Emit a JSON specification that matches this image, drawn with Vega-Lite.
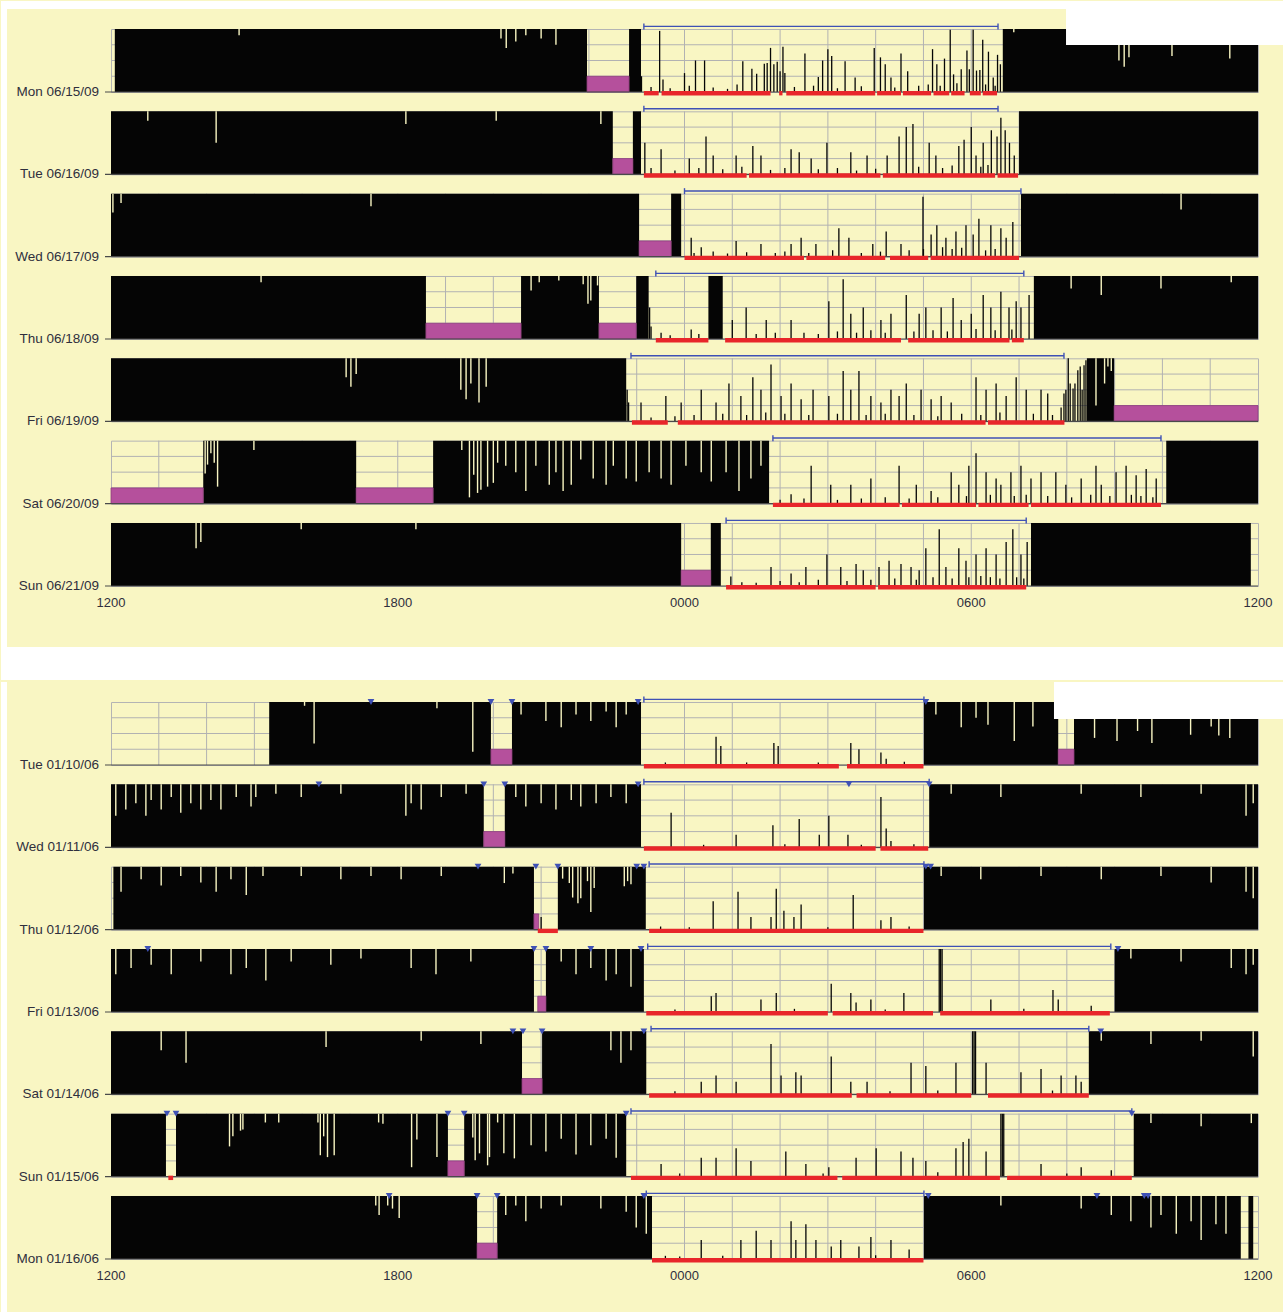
{
"$schema":"https://vega.github.io/schema/vega-lite/v6.json",
"background":"#F9F6C3",
"padding":0,
"autosize":{"type":"pad"},
"spacing":0,
"config":{"view":{"stroke":"#b4b4b4","strokeWidth":1},"font":"Liberation Sans"},
"datasets":{
"p1":[
{"d":"Mon 06/15/09","k":"g","a":1},{"d":"Mon 06/15/09","k":"g","a":2},{"d":"Mon 06/15/09","k":"g","a":3},{"d":"Mon 06/15/09","k":"g","a":4},{"d":"Mon 06/15/09","k":"g","a":5},{"d":"Mon 06/15/09","k":"g","a":6},{"d":"Mon 06/15/09","k":"g","a":7},{"d":"Mon 06/15/09","k":"g","a":8},{"d":"Mon 06/15/09","k":"g","a":9},{"d":"Mon 06/15/09","k":"g","a":10},{"d":"Mon 06/15/09","k":"g","a":11},{"d":"Mon 06/15/09","k":"g","a":12},{"d":"Mon 06/15/09","k":"g","a":13},{"d":"Mon 06/15/09","k":"g","a":14},{"d":"Mon 06/15/09","k":"g","a":15},{"d":"Mon 06/15/09","k":"g","a":16},{"d":"Mon 06/15/09","k":"g","a":17},{"d":"Mon 06/15/09","k":"g","a":18},{"d":"Mon 06/15/09","k":"g","a":19},{"d":"Mon 06/15/09","k":"g","a":20},{"d":"Mon 06/15/09","k":"g","a":21},{"d":"Mon 06/15/09","k":"g","a":22},{"d":"Mon 06/15/09","k":"g","a":23},{"d":"Mon 06/15/09","k":"h","v":0.25},{"d":"Mon 06/15/09","k":"h","v":0.5},{"d":"Mon 06/15/09","k":"h","v":0.75},
{"d":"Tue 06/16/09","k":"g","a":1},{"d":"Tue 06/16/09","k":"g","a":2},{"d":"Tue 06/16/09","k":"g","a":3},{"d":"Tue 06/16/09","k":"g","a":4},{"d":"Tue 06/16/09","k":"g","a":5},{"d":"Tue 06/16/09","k":"g","a":6},{"d":"Tue 06/16/09","k":"g","a":7},{"d":"Tue 06/16/09","k":"g","a":8},{"d":"Tue 06/16/09","k":"g","a":9},{"d":"Tue 06/16/09","k":"g","a":10},{"d":"Tue 06/16/09","k":"g","a":11},{"d":"Tue 06/16/09","k":"g","a":12},{"d":"Tue 06/16/09","k":"g","a":13},{"d":"Tue 06/16/09","k":"g","a":14},{"d":"Tue 06/16/09","k":"g","a":15},{"d":"Tue 06/16/09","k":"g","a":16},{"d":"Tue 06/16/09","k":"g","a":17},{"d":"Tue 06/16/09","k":"g","a":18},{"d":"Tue 06/16/09","k":"g","a":19},{"d":"Tue 06/16/09","k":"g","a":20},{"d":"Tue 06/16/09","k":"g","a":21},{"d":"Tue 06/16/09","k":"g","a":22},{"d":"Tue 06/16/09","k":"g","a":23},{"d":"Tue 06/16/09","k":"h","v":0.25},{"d":"Tue 06/16/09","k":"h","v":0.5},{"d":"Tue 06/16/09","k":"h","v":0.75},
{"d":"Wed 06/17/09","k":"g","a":1},{"d":"Wed 06/17/09","k":"g","a":2},{"d":"Wed 06/17/09","k":"g","a":3},{"d":"Wed 06/17/09","k":"g","a":4},{"d":"Wed 06/17/09","k":"g","a":5},{"d":"Wed 06/17/09","k":"g","a":6},{"d":"Wed 06/17/09","k":"g","a":7},{"d":"Wed 06/17/09","k":"g","a":8},{"d":"Wed 06/17/09","k":"g","a":9},{"d":"Wed 06/17/09","k":"g","a":10},{"d":"Wed 06/17/09","k":"g","a":11},{"d":"Wed 06/17/09","k":"g","a":12},{"d":"Wed 06/17/09","k":"g","a":13},{"d":"Wed 06/17/09","k":"g","a":14},{"d":"Wed 06/17/09","k":"g","a":15},{"d":"Wed 06/17/09","k":"g","a":16},{"d":"Wed 06/17/09","k":"g","a":17},{"d":"Wed 06/17/09","k":"g","a":18},{"d":"Wed 06/17/09","k":"g","a":19},{"d":"Wed 06/17/09","k":"g","a":20},{"d":"Wed 06/17/09","k":"g","a":21},{"d":"Wed 06/17/09","k":"g","a":22},{"d":"Wed 06/17/09","k":"g","a":23},{"d":"Wed 06/17/09","k":"h","v":0.25},{"d":"Wed 06/17/09","k":"h","v":0.5},{"d":"Wed 06/17/09","k":"h","v":0.75},
{"d":"Thu 06/18/09","k":"g","a":1},{"d":"Thu 06/18/09","k":"g","a":2},{"d":"Thu 06/18/09","k":"g","a":3},{"d":"Thu 06/18/09","k":"g","a":4},{"d":"Thu 06/18/09","k":"g","a":5},{"d":"Thu 06/18/09","k":"g","a":6},{"d":"Thu 06/18/09","k":"g","a":7},{"d":"Thu 06/18/09","k":"g","a":8},{"d":"Thu 06/18/09","k":"g","a":9},{"d":"Thu 06/18/09","k":"g","a":10},{"d":"Thu 06/18/09","k":"g","a":11},{"d":"Thu 06/18/09","k":"g","a":12},{"d":"Thu 06/18/09","k":"g","a":13},{"d":"Thu 06/18/09","k":"g","a":14},{"d":"Thu 06/18/09","k":"g","a":15},{"d":"Thu 06/18/09","k":"g","a":16},{"d":"Thu 06/18/09","k":"g","a":17},{"d":"Thu 06/18/09","k":"g","a":18},{"d":"Thu 06/18/09","k":"g","a":19},{"d":"Thu 06/18/09","k":"g","a":20},{"d":"Thu 06/18/09","k":"g","a":21},{"d":"Thu 06/18/09","k":"g","a":22},{"d":"Thu 06/18/09","k":"g","a":23},{"d":"Thu 06/18/09","k":"h","v":0.25},{"d":"Thu 06/18/09","k":"h","v":0.5},{"d":"Thu 06/18/09","k":"h","v":0.75},
{"d":"Fri 06/19/09","k":"g","a":1},{"d":"Fri 06/19/09","k":"g","a":2},{"d":"Fri 06/19/09","k":"g","a":3},{"d":"Fri 06/19/09","k":"g","a":4},{"d":"Fri 06/19/09","k":"g","a":5},{"d":"Fri 06/19/09","k":"g","a":6},{"d":"Fri 06/19/09","k":"g","a":7},{"d":"Fri 06/19/09","k":"g","a":8},{"d":"Fri 06/19/09","k":"g","a":9},{"d":"Fri 06/19/09","k":"g","a":10},{"d":"Fri 06/19/09","k":"g","a":11},{"d":"Fri 06/19/09","k":"g","a":12},{"d":"Fri 06/19/09","k":"g","a":13},{"d":"Fri 06/19/09","k":"g","a":14},{"d":"Fri 06/19/09","k":"g","a":15},{"d":"Fri 06/19/09","k":"g","a":16},{"d":"Fri 06/19/09","k":"g","a":17},{"d":"Fri 06/19/09","k":"g","a":18},{"d":"Fri 06/19/09","k":"g","a":19},{"d":"Fri 06/19/09","k":"g","a":20},{"d":"Fri 06/19/09","k":"g","a":21},{"d":"Fri 06/19/09","k":"g","a":22},{"d":"Fri 06/19/09","k":"g","a":23},{"d":"Fri 06/19/09","k":"h","v":0.25},{"d":"Fri 06/19/09","k":"h","v":0.5},{"d":"Fri 06/19/09","k":"h","v":0.75},
{"d":"Sat 06/20/09","k":"g","a":1},{"d":"Sat 06/20/09","k":"g","a":2},{"d":"Sat 06/20/09","k":"g","a":3},{"d":"Sat 06/20/09","k":"g","a":4},{"d":"Sat 06/20/09","k":"g","a":5},{"d":"Sat 06/20/09","k":"g","a":6},{"d":"Sat 06/20/09","k":"g","a":7},{"d":"Sat 06/20/09","k":"g","a":8},{"d":"Sat 06/20/09","k":"g","a":9},{"d":"Sat 06/20/09","k":"g","a":10},{"d":"Sat 06/20/09","k":"g","a":11},{"d":"Sat 06/20/09","k":"g","a":12},{"d":"Sat 06/20/09","k":"g","a":13},{"d":"Sat 06/20/09","k":"g","a":14},{"d":"Sat 06/20/09","k":"g","a":15},{"d":"Sat 06/20/09","k":"g","a":16},{"d":"Sat 06/20/09","k":"g","a":17},{"d":"Sat 06/20/09","k":"g","a":18},{"d":"Sat 06/20/09","k":"g","a":19},{"d":"Sat 06/20/09","k":"g","a":20},{"d":"Sat 06/20/09","k":"g","a":21},{"d":"Sat 06/20/09","k":"g","a":22},{"d":"Sat 06/20/09","k":"g","a":23},{"d":"Sat 06/20/09","k":"h","v":0.25},{"d":"Sat 06/20/09","k":"h","v":0.5},{"d":"Sat 06/20/09","k":"h","v":0.75},
{"d":"Sun 06/21/09","k":"g","a":1},{"d":"Sun 06/21/09","k":"g","a":2},{"d":"Sun 06/21/09","k":"g","a":3},{"d":"Sun 06/21/09","k":"g","a":4},{"d":"Sun 06/21/09","k":"g","a":5},{"d":"Sun 06/21/09","k":"g","a":6},{"d":"Sun 06/21/09","k":"g","a":7},{"d":"Sun 06/21/09","k":"g","a":8},{"d":"Sun 06/21/09","k":"g","a":9},{"d":"Sun 06/21/09","k":"g","a":10},{"d":"Sun 06/21/09","k":"g","a":11},{"d":"Sun 06/21/09","k":"g","a":12},{"d":"Sun 06/21/09","k":"g","a":13},{"d":"Sun 06/21/09","k":"g","a":14},{"d":"Sun 06/21/09","k":"g","a":15},{"d":"Sun 06/21/09","k":"g","a":16},{"d":"Sun 06/21/09","k":"g","a":17},{"d":"Sun 06/21/09","k":"g","a":18},{"d":"Sun 06/21/09","k":"g","a":19},{"d":"Sun 06/21/09","k":"g","a":20},{"d":"Sun 06/21/09","k":"g","a":21},{"d":"Sun 06/21/09","k":"g","a":22},{"d":"Sun 06/21/09","k":"g","a":23},{"d":"Sun 06/21/09","k":"h","v":0.25},{"d":"Sun 06/21/09","k":"h","v":0.5},{"d":"Sun 06/21/09","k":"h","v":0.75},

{"d":"Mon 06/15/09","k":"w","a":0.08,"b":9.96},{"d":"Mon 06/15/09","k":"w","a":10.84,"b":11.09},{"d":"Mon 06/15/09","k":"w","a":18.66,"b":24},
{"d":"Mon 06/15/09","k":"m","a":9.96,"b":10.84},
{"d":"Mon 06/15/09","k":"br","a":11.15,"b":18.56},
{"d":"Mon 06/15/09","k":"r","a":11.15,"b":11.46},{"d":"Mon 06/15/09","k":"r","a":11.52,"b":13.8},{"d":"Mon 06/15/09","k":"r","a":13.98,"b":14.05},{"d":"Mon 06/15/09","k":"r","a":14.13,"b":15.99},{"d":"Mon 06/15/09","k":"r","a":16.03,"b":16.53},{"d":"Mon 06/15/09","k":"r","a":16.57,"b":17.16},{"d":"Mon 06/15/09","k":"r","a":17.21,"b":17.54},{"d":"Mon 06/15/09","k":"r","a":17.58,"b":17.86},{"d":"Mon 06/15/09","k":"r","a":17.97,"b":18.2},{"d":"Mon 06/15/09","k":"r","a":18.24,"b":18.54},
{"d":"Mon 06/15/09","k":"s","a":11.10,"v":0.25},{"d":"Mon 06/15/09","k":"s","a":11.48,"v":0.97},{"d":"Mon 06/15/09","k":"s","a":11.55,"v":0.2},{"d":"Mon 06/15/09","k":"s","a":12.0,"v":0.3},{"d":"Mon 06/15/09","k":"s","a":12.23,"v":0.5},{"d":"Mon 06/15/09","k":"s","a":12.42,"v":0.5},{"d":"Mon 06/15/09","k":"s","a":13.22,"v":0.49},{"d":"Mon 06/15/09","k":"s","a":13.41,"v":0.37},{"d":"Mon 06/15/09","k":"s","a":13.51,"v":0.29},{"d":"Mon 06/15/09","k":"s","a":13.67,"v":0.45},{"d":"Mon 06/15/09","k":"s","a":13.73,"v":0.46},{"d":"Mon 06/15/09","k":"s","a":13.80,"v":0.7},{"d":"Mon 06/15/09","k":"s","a":13.87,"v":0.44},{"d":"Mon 06/15/09","k":"s","a":13.94,"v":0.48},{"d":"Mon 06/15/09","k":"s","a":14.0,"v":0.33},{"d":"Mon 06/15/09","k":"s","a":14.06,"v":0.72},{"d":"Mon 06/15/09","k":"s","a":14.1,"v":0.3},{"d":"Mon 06/15/09","k":"s","a":14.52,"v":0.61},{"d":"Mon 06/15/09","k":"s","a":14.80,"v":0.24},{"d":"Mon 06/15/09","k":"s","a":14.89,"v":0.5},{"d":"Mon 06/15/09","k":"s","a":15.0,"v":0.68},{"d":"Mon 06/15/09","k":"s","a":15.08,"v":0.57},{"d":"Mon 06/15/09","k":"s","a":15.36,"v":0.49},{"d":"Mon 06/15/09","k":"s","a":15.57,"v":0.23},{"d":"Mon 06/15/09","k":"s","a":15.97,"v":0.7},{"d":"Mon 06/15/09","k":"s","a":16.10,"v":0.55},{"d":"Mon 06/15/09","k":"s","a":16.20,"v":0.44},{"d":"Mon 06/15/09","k":"s","a":16.32,"v":0.23},{"d":"Mon 06/15/09","k":"s","a":16.53,"v":0.61},{"d":"Mon 06/15/09","k":"s","a":16.67,"v":0.33},{"d":"Mon 06/15/09","k":"s","a":17.19,"v":0.68},{"d":"Mon 06/15/09","k":"s","a":17.28,"v":0.44},{"d":"Mon 06/15/09","k":"s","a":17.44,"v":0.53},{"d":"Mon 06/15/09","k":"s","a":17.56,"v":0.99},{"d":"Mon 06/15/09","k":"s","a":17.63,"v":0.28},{"d":"Mon 06/15/09","k":"s","a":17.79,"v":0.36},{"d":"Mon 06/15/09","k":"s","a":17.91,"v":0.66},{"d":"Mon 06/15/09","k":"s","a":17.96,"v":0.36},{"d":"Mon 06/15/09","k":"s","a":18.04,"v":0.99},{"d":"Mon 06/15/09","k":"s","a":18.11,"v":0.34},{"d":"Mon 06/15/09","k":"s","a":18.18,"v":0.35},{"d":"Mon 06/15/09","k":"s","a":18.24,"v":0.83},{"d":"Mon 06/15/09","k":"s","a":18.36,"v":0.64},{"d":"Mon 06/15/09","k":"s","a":18.46,"v":0.23},{"d":"Mon 06/15/09","k":"s","a":18.55,"v":0.59},{"d":"Mon 06/15/09","k":"s","a":18.61,"v":0.44},
{"d":"Mon 06/15/09","k":"s","a":11.3,"v":0.08},{"d":"Mon 06/15/09","k":"s","a":11.7,"v":0.06},{"d":"Mon 06/15/09","k":"s","a":12.1,"v":0.1},{"d":"Mon 06/15/09","k":"s","a":12.6,"v":0.07},{"d":"Mon 06/15/09","k":"s","a":12.9,"v":0.05},{"d":"Mon 06/15/09","k":"s","a":13.1,"v":0.12},{"d":"Mon 06/15/09","k":"s","a":14.3,"v":0.08},{"d":"Mon 06/15/09","k":"s","a":14.7,"v":0.1},{"d":"Mon 06/15/09","k":"s","a":15.2,"v":0.06},{"d":"Mon 06/15/09","k":"s","a":15.7,"v":0.09},{"d":"Mon 06/15/09","k":"s","a":16.4,"v":0.07},{"d":"Mon 06/15/09","k":"s","a":16.9,"v":0.1},{"d":"Mon 06/15/09","k":"s","a":17.1,"v":0.12},{"d":"Mon 06/15/09","k":"s","a":17.35,"v":0.1},{"d":"Mon 06/15/09","k":"s","a":17.7,"v":0.14},{"d":"Mon 06/15/09","k":"s","a":18.3,"v":0.12},{"d":"Mon 06/15/09","k":"s","a":18.5,"v":0.1},
{"d":"Mon 06/15/09","k":"dp","a":2.68,"v":0.9},{"d":"Mon 06/15/09","k":"dp","a":8.16,"v":0.85},{"d":"Mon 06/15/09","k":"dp","a":8.27,"v":0.7},{"d":"Mon 06/15/09","k":"dp","a":8.47,"v":0.8},{"d":"Mon 06/15/09","k":"dp","a":8.68,"v":0.9},{"d":"Mon 06/15/09","k":"dp","a":9.0,"v":0.85},{"d":"Mon 06/15/09","k":"dp","a":9.31,"v":0.75},{"d":"Mon 06/15/09","k":"dp","a":18.89,"v":0.95},{"d":"Mon 06/15/09","k":"dp","a":21.09,"v":0.5},{"d":"Mon 06/15/09","k":"dp","a":21.2,"v":0.4},{"d":"Mon 06/15/09","k":"dp","a":21.3,"v":0.55},{"d":"Mon 06/15/09","k":"dp","a":22.2,"v":0.57},{"d":"Mon 06/15/09","k":"dp","a":23.41,"v":0.53},
{"d":"Mon 06/15/09","k":"x","a":-2.3017,"b":24.544,"lo":1.3175,"hi":1.4444},{"d":"Mon 06/15/09","k":"x","a":-2.3017,"b":-2.1762,"lo":-9.0,"hi":1.4444},{"d":"Mon 06/15/09","k":"x","a":19.983,"b":24.544,"lo":0.746,"hi":1.4444},

{"d":"Tue 06/16/09","k":"w","a":0,"b":10.5},{"d":"Tue 06/16/09","k":"w","a":10.92,"b":11.09},{"d":"Tue 06/16/09","k":"w","a":19.0,"b":24},
{"d":"Tue 06/16/09","k":"m","a":10.5,"b":10.92},
{"d":"Tue 06/16/09","k":"br","a":11.15,"b":18.56},
{"d":"Tue 06/16/09","k":"r","a":11.15,"b":13.3},{"d":"Tue 06/16/09","k":"r","a":13.35,"b":16.1},{"d":"Tue 06/16/09","k":"r","a":16.15,"b":18.5},{"d":"Tue 06/16/09","k":"r","a":18.55,"b":18.98},
{"d":"Tue 06/16/09","k":"s","a":11.17,"v":0.5},{"d":"Tue 06/16/09","k":"s","a":11.51,"v":0.4},{"d":"Tue 06/16/09","k":"s","a":12.10,"v":0.25},{"d":"Tue 06/16/09","k":"s","a":12.45,"v":0.6},{"d":"Tue 06/16/09","k":"s","a":12.60,"v":0.3},{"d":"Tue 06/16/09","k":"s","a":13.08,"v":0.3},{"d":"Tue 06/16/09","k":"s","a":13.43,"v":0.45},{"d":"Tue 06/16/09","k":"s","a":13.60,"v":0.3},{"d":"Tue 06/16/09","k":"s","a":14.23,"v":0.4},{"d":"Tue 06/16/09","k":"s","a":14.40,"v":0.35},{"d":"Tue 06/16/09","k":"s","a":14.65,"v":0.25},{"d":"Tue 06/16/09","k":"s","a":14.98,"v":0.5},{"d":"Tue 06/16/09","k":"s","a":15.48,"v":0.35},{"d":"Tue 06/16/09","k":"s","a":15.82,"v":0.3},{"d":"Tue 06/16/09","k":"s","a":16.24,"v":0.3},{"d":"Tue 06/16/09","k":"s","a":16.49,"v":0.6},{"d":"Tue 06/16/09","k":"s","a":16.64,"v":0.75},{"d":"Tue 06/16/09","k":"s","a":16.78,"v":0.8},{"d":"Tue 06/16/09","k":"s","a":17.12,"v":0.5},{"d":"Tue 06/16/09","k":"s","a":17.26,"v":0.3},{"d":"Tue 06/16/09","k":"s","a":17.74,"v":0.45},{"d":"Tue 06/16/09","k":"s","a":17.85,"v":0.55},{"d":"Tue 06/16/09","k":"s","a":18.0,"v":0.75},{"d":"Tue 06/16/09","k":"s","a":18.1,"v":0.3},{"d":"Tue 06/16/09","k":"s","a":18.25,"v":0.5},{"d":"Tue 06/16/09","k":"s","a":18.42,"v":0.7},{"d":"Tue 06/16/09","k":"s","a":18.54,"v":0.6},{"d":"Tue 06/16/09","k":"s","a":18.62,"v":0.9},{"d":"Tue 06/16/09","k":"s","a":18.71,"v":0.7},{"d":"Tue 06/16/09","k":"s","a":18.8,"v":0.5},{"d":"Tue 06/16/09","k":"s","a":18.9,"v":0.3},
{"d":"Tue 06/16/09","k":"s","a":11.3,"v":0.1},{"d":"Tue 06/16/09","k":"s","a":11.8,"v":0.06},{"d":"Tue 06/16/09","k":"s","a":12.3,"v":0.1},{"d":"Tue 06/16/09","k":"s","a":12.8,"v":0.08},{"d":"Tue 06/16/09","k":"s","a":13.2,"v":0.12},{"d":"Tue 06/16/09","k":"s","a":13.8,"v":0.07},{"d":"Tue 06/16/09","k":"s","a":14.1,"v":0.1},{"d":"Tue 06/16/09","k":"s","a":14.8,"v":0.08},{"d":"Tue 06/16/09","k":"s","a":15.2,"v":0.1},{"d":"Tue 06/16/09","k":"s","a":15.6,"v":0.06},{"d":"Tue 06/16/09","k":"s","a":16.0,"v":0.09},{"d":"Tue 06/16/09","k":"s","a":16.9,"v":0.12},{"d":"Tue 06/16/09","k":"s","a":17.4,"v":0.1},{"d":"Tue 06/16/09","k":"s","a":17.6,"v":0.14},{"d":"Tue 06/16/09","k":"s","a":18.2,"v":0.12},{"d":"Tue 06/16/09","k":"s","a":18.35,"v":0.15},
{"d":"Tue 06/16/09","k":"dp","a":0.77,"v":0.85},{"d":"Tue 06/16/09","k":"dp","a":2.2,"v":0.5},{"d":"Tue 06/16/09","k":"dp","a":6.17,"v":0.8},{"d":"Tue 06/16/09","k":"dp","a":8.06,"v":0.85},{"d":"Tue 06/16/09","k":"dp","a":10.25,"v":0.8},

{"d":"Wed 06/17/09","k":"w","a":0,"b":11.05},{"d":"Wed 06/17/09","k":"w","a":11.72,"b":11.93},{"d":"Wed 06/17/09","k":"w","a":19.04,"b":24},
{"d":"Wed 06/17/09","k":"m","a":11.05,"b":11.72},
{"d":"Wed 06/17/09","k":"br","a":12.0,"b":19.04},
{"d":"Wed 06/17/09","k":"r","a":12.0,"b":14.5},{"d":"Wed 06/17/09","k":"r","a":14.55,"b":16.2},{"d":"Wed 06/17/09","k":"r","a":16.3,"b":17.1},{"d":"Wed 06/17/09","k":"r","a":17.15,"b":19.0},
{"d":"Wed 06/17/09","k":"s","a":12.14,"v":0.3},{"d":"Wed 06/17/09","k":"s","a":12.35,"v":0.15},{"d":"Wed 06/17/09","k":"s","a":13.08,"v":0.25},{"d":"Wed 06/17/09","k":"s","a":13.6,"v":0.2},{"d":"Wed 06/17/09","k":"s","a":14.23,"v":0.2},{"d":"Wed 06/17/09","k":"s","a":14.44,"v":0.3},{"d":"Wed 06/17/09","k":"s","a":14.75,"v":0.2},{"d":"Wed 06/17/09","k":"s","a":15.23,"v":0.45},{"d":"Wed 06/17/09","k":"s","a":15.44,"v":0.3},{"d":"Wed 06/17/09","k":"s","a":15.94,"v":0.2},{"d":"Wed 06/17/09","k":"s","a":16.22,"v":0.4},{"d":"Wed 06/17/09","k":"s","a":16.53,"v":0.2},{"d":"Wed 06/17/09","k":"s","a":16.99,"v":0.95},{"d":"Wed 06/17/09","k":"s","a":17.16,"v":0.35},{"d":"Wed 06/17/09","k":"s","a":17.28,"v":0.5},{"d":"Wed 06/17/09","k":"s","a":17.47,"v":0.3},{"d":"Wed 06/17/09","k":"s","a":17.68,"v":0.4},{"d":"Wed 06/17/09","k":"s","a":17.89,"v":0.5},{"d":"Wed 06/17/09","k":"s","a":18.04,"v":0.35},{"d":"Wed 06/17/09","k":"s","a":18.16,"v":0.6},{"d":"Wed 06/17/09","k":"s","a":18.41,"v":0.5},{"d":"Wed 06/17/09","k":"s","a":18.62,"v":0.45},{"d":"Wed 06/17/09","k":"s","a":18.73,"v":0.3},{"d":"Wed 06/17/09","k":"s","a":18.87,"v":0.55},
{"d":"Wed 06/17/09","k":"s","a":12.2,"v":0.06},{"d":"Wed 06/17/09","k":"s","a":12.6,"v":0.08},{"d":"Wed 06/17/09","k":"s","a":12.9,"v":0.05},{"d":"Wed 06/17/09","k":"s","a":13.3,"v":0.07},{"d":"Wed 06/17/09","k":"s","a":13.9,"v":0.06},{"d":"Wed 06/17/09","k":"s","a":14.1,"v":0.08},{"d":"Wed 06/17/09","k":"s","a":14.6,"v":0.06},{"d":"Wed 06/17/09","k":"s","a":15.1,"v":0.1},{"d":"Wed 06/17/09","k":"s","a":15.7,"v":0.06},{"d":"Wed 06/17/09","k":"s","a":16.1,"v":0.08},{"d":"Wed 06/17/09","k":"s","a":16.7,"v":0.1},{"d":"Wed 06/17/09","k":"s","a":17.0,"v":0.12},{"d":"Wed 06/17/09","k":"s","a":17.4,"v":0.15},{"d":"Wed 06/17/09","k":"s","a":17.6,"v":0.12},{"d":"Wed 06/17/09","k":"s","a":17.8,"v":0.14},{"d":"Wed 06/17/09","k":"s","a":18.3,"v":0.1},{"d":"Wed 06/17/09","k":"s","a":18.5,"v":0.12},
{"d":"Wed 06/17/09","k":"dp","a":0.04,"v":0.7},{"d":"Wed 06/17/09","k":"dp","a":0.21,"v":0.85},{"d":"Wed 06/17/09","k":"dp","a":5.44,"v":0.8},{"d":"Wed 06/17/09","k":"dp","a":22.39,"v":0.75},

{"d":"Thu 06/18/09","k":"w","a":0,"b":6.59},{"d":"Thu 06/18/09","k":"w","a":8.58,"b":10.21},{"d":"Thu 06/18/09","k":"w","a":10.99,"b":11.25},{"d":"Thu 06/18/09","k":"w","a":12.5,"b":12.8},{"d":"Thu 06/18/09","k":"w","a":19.31,"b":24},
{"d":"Thu 06/18/09","k":"m","a":6.59,"b":8.58},{"d":"Thu 06/18/09","k":"m","a":10.21,"b":10.99},
{"d":"Thu 06/18/09","k":"br","a":11.4,"b":19.1},
{"d":"Thu 06/18/09","k":"r","a":11.4,"b":12.5},{"d":"Thu 06/18/09","k":"r","a":12.85,"b":16.53},{"d":"Thu 06/18/09","k":"r","a":16.68,"b":18.8},{"d":"Thu 06/18/09","k":"r","a":18.85,"b":19.1},
{"d":"Thu 06/18/09","k":"s","a":11.27,"v":0.5},{"d":"Thu 06/18/09","k":"s","a":11.3,"v":0.2},{"d":"Thu 06/18/09","k":"s","a":11.51,"v":0.1},{"d":"Thu 06/18/09","k":"s","a":12.14,"v":0.15},{"d":"Thu 06/18/09","k":"s","a":13.0,"v":0.3},{"d":"Thu 06/18/09","k":"s","a":13.29,"v":0.5},{"d":"Thu 06/18/09","k":"s","a":13.71,"v":0.3},{"d":"Thu 06/18/09","k":"s","a":14.23,"v":0.3},{"d":"Thu 06/18/09","k":"s","a":15.02,"v":0.6},{"d":"Thu 06/18/09","k":"s","a":15.32,"v":0.95},{"d":"Thu 06/18/09","k":"s","a":15.48,"v":0.4},{"d":"Thu 06/18/09","k":"s","a":15.74,"v":0.5},{"d":"Thu 06/18/09","k":"s","a":16.11,"v":0.3},{"d":"Thu 06/18/09","k":"s","a":16.32,"v":0.4},{"d":"Thu 06/18/09","k":"s","a":16.64,"v":0.7},{"d":"Thu 06/18/09","k":"s","a":16.91,"v":0.4},{"d":"Thu 06/18/09","k":"s","a":17.05,"v":0.5},{"d":"Thu 06/18/09","k":"s","a":17.37,"v":0.5},{"d":"Thu 06/18/09","k":"s","a":17.62,"v":0.65},{"d":"Thu 06/18/09","k":"s","a":17.79,"v":0.3},{"d":"Thu 06/18/09","k":"s","a":18.0,"v":0.4},{"d":"Thu 06/18/09","k":"s","a":18.25,"v":0.7},{"d":"Thu 06/18/09","k":"s","a":18.41,"v":0.5},{"d":"Thu 06/18/09","k":"s","a":18.62,"v":0.75},{"d":"Thu 06/18/09","k":"s","a":18.79,"v":0.5},{"d":"Thu 06/18/09","k":"s","a":18.94,"v":0.6},{"d":"Thu 06/18/09","k":"s","a":19.04,"v":0.5},{"d":"Thu 06/18/09","k":"s","a":19.21,"v":0.7},
{"d":"Thu 06/18/09","k":"s","a":11.7,"v":0.06},{"d":"Thu 06/18/09","k":"s","a":12.3,"v":0.08},{"d":"Thu 06/18/09","k":"s","a":13.5,"v":0.08},{"d":"Thu 06/18/09","k":"s","a":13.9,"v":0.1},{"d":"Thu 06/18/09","k":"s","a":14.5,"v":0.1},{"d":"Thu 06/18/09","k":"s","a":14.8,"v":0.08},{"d":"Thu 06/18/09","k":"s","a":15.2,"v":0.12},{"d":"Thu 06/18/09","k":"s","a":15.6,"v":0.1},{"d":"Thu 06/18/09","k":"s","a":15.9,"v":0.14},{"d":"Thu 06/18/09","k":"s","a":16.2,"v":0.1},{"d":"Thu 06/18/09","k":"s","a":16.8,"v":0.12},{"d":"Thu 06/18/09","k":"s","a":17.2,"v":0.14},{"d":"Thu 06/18/09","k":"s","a":17.5,"v":0.12},{"d":"Thu 06/18/09","k":"s","a":18.1,"v":0.16},{"d":"Thu 06/18/09","k":"s","a":18.5,"v":0.14},{"d":"Thu 06/18/09","k":"s","a":18.85,"v":0.15},
{"d":"Thu 06/18/09","k":"dp","a":3.14,"v":0.9},{"d":"Thu 06/18/09","k":"dp","a":8.79,"v":0.77},{"d":"Thu 06/18/09","k":"dp","a":8.96,"v":0.9},{"d":"Thu 06/18/09","k":"dp","a":9.37,"v":0.93},{"d":"Thu 06/18/09","k":"dp","a":9.88,"v":0.87},{"d":"Thu 06/18/09","k":"dp","a":9.98,"v":0.56},{"d":"Thu 06/18/09","k":"dp","a":10.04,"v":0.61},{"d":"Thu 06/18/09","k":"dp","a":10.18,"v":0.85},{"d":"Thu 06/18/09","k":"dp","a":20.09,"v":0.8},{"d":"Thu 06/18/09","k":"dp","a":20.72,"v":0.7},{"d":"Thu 06/18/09","k":"dp","a":21.97,"v":0.8},{"d":"Thu 06/18/09","k":"dp","a":23.44,"v":0.9},

{"d":"Fri 06/19/09","k":"w","a":0,"b":10.78},{"d":"Fri 06/19/09","k":"w","a":20.42,"b":20.99},
{"d":"Fri 06/19/09","k":"m","a":20.99,"b":24},
{"d":"Fri 06/19/09","k":"br","a":10.88,"b":19.94},
{"d":"Fri 06/19/09","k":"r","a":10.9,"b":11.65},{"d":"Fri 06/19/09","k":"r","a":11.86,"b":18.3},{"d":"Fri 06/19/09","k":"r","a":18.35,"b":19.95},
{"d":"Fri 06/19/09","k":"s","a":10.8,"v":0.5},{"d":"Fri 06/19/09","k":"s","a":10.83,"v":0.3},{"d":"Fri 06/19/09","k":"s","a":11.09,"v":0.3},{"d":"Fri 06/19/09","k":"s","a":11.61,"v":0.4},{"d":"Fri 06/19/09","k":"s","a":11.93,"v":0.3},{"d":"Fri 06/19/09","k":"s","a":12.35,"v":0.5},{"d":"Fri 06/19/09","k":"s","a":12.66,"v":0.3},{"d":"Fri 06/19/09","k":"s","a":12.93,"v":0.6},{"d":"Fri 06/19/09","k":"s","a":13.18,"v":0.4},{"d":"Fri 06/19/09","k":"s","a":13.43,"v":0.7},{"d":"Fri 06/19/09","k":"s","a":13.6,"v":0.5},{"d":"Fri 06/19/09","k":"s","a":13.81,"v":0.9},{"d":"Fri 06/19/09","k":"s","a":14.02,"v":0.4},{"d":"Fri 06/19/09","k":"s","a":14.23,"v":0.6},{"d":"Fri 06/19/09","k":"s","a":14.44,"v":0.35},{"d":"Fri 06/19/09","k":"s","a":14.69,"v":0.5},{"d":"Fri 06/19/09","k":"s","a":15.02,"v":0.4},{"d":"Fri 06/19/09","k":"s","a":15.32,"v":0.8},{"d":"Fri 06/19/09","k":"s","a":15.48,"v":0.5},{"d":"Fri 06/19/09","k":"s","a":15.65,"v":0.8},{"d":"Fri 06/19/09","k":"s","a":15.9,"v":0.4},{"d":"Fri 06/19/09","k":"s","a":16.11,"v":0.3},{"d":"Fri 06/19/09","k":"s","a":16.32,"v":0.5},{"d":"Fri 06/19/09","k":"s","a":16.49,"v":0.4},{"d":"Fri 06/19/09","k":"s","a":16.64,"v":0.6},{"d":"Fri 06/19/09","k":"s","a":16.95,"v":0.5},{"d":"Fri 06/19/09","k":"s","a":17.16,"v":0.35},{"d":"Fri 06/19/09","k":"s","a":17.37,"v":0.4},{"d":"Fri 06/19/09","k":"s","a":17.58,"v":0.3},{"d":"Fri 06/19/09","k":"s","a":18.1,"v":0.7},{"d":"Fri 06/19/09","k":"s","a":18.31,"v":0.5},{"d":"Fri 06/19/09","k":"s","a":18.52,"v":0.6},{"d":"Fri 06/19/09","k":"s","a":18.73,"v":0.4},{"d":"Fri 06/19/09","k":"s","a":18.94,"v":0.7},{"d":"Fri 06/19/09","k":"s","a":19.15,"v":0.5},{"d":"Fri 06/19/09","k":"s","a":19.46,"v":0.5},{"d":"Fri 06/19/09","k":"s","a":19.6,"v":0.44},{"d":"Fri 06/19/09","k":"s","a":19.88,"v":0.22},{"d":"Fri 06/19/09","k":"s","a":19.94,"v":0.44},{"d":"Fri 06/19/09","k":"s","a":19.98,"v":0.5},{"d":"Fri 06/19/09","k":"s","a":20.03,"v":1.0},{"d":"Fri 06/19/09","k":"s","a":20.07,"v":0.6},{"d":"Fri 06/19/09","k":"s","a":20.13,"v":0.52},{"d":"Fri 06/19/09","k":"s","a":20.17,"v":0.6},{"d":"Fri 06/19/09","k":"s","a":20.23,"v":0.81},{"d":"Fri 06/19/09","k":"s","a":20.28,"v":0.87},{"d":"Fri 06/19/09","k":"s","a":20.32,"v":0.5},{"d":"Fri 06/19/09","k":"s","a":20.36,"v":0.89},{"d":"Fri 06/19/09","k":"s","a":20.4,"v":0.97},
{"d":"Fri 06/19/09","k":"s","a":11.3,"v":0.06},{"d":"Fri 06/19/09","k":"s","a":11.8,"v":0.08},{"d":"Fri 06/19/09","k":"s","a":12.2,"v":0.1},{"d":"Fri 06/19/09","k":"s","a":12.8,"v":0.12},{"d":"Fri 06/19/09","k":"s","a":13.3,"v":0.1},{"d":"Fri 06/19/09","k":"s","a":13.7,"v":0.14},{"d":"Fri 06/19/09","k":"s","a":14.1,"v":0.12},{"d":"Fri 06/19/09","k":"s","a":14.6,"v":0.1},{"d":"Fri 06/19/09","k":"s","a":15.2,"v":0.12},{"d":"Fri 06/19/09","k":"s","a":15.8,"v":0.1},{"d":"Fri 06/19/09","k":"s","a":16.2,"v":0.12},{"d":"Fri 06/19/09","k":"s","a":16.8,"v":0.1},{"d":"Fri 06/19/09","k":"s","a":17.3,"v":0.08},{"d":"Fri 06/19/09","k":"s","a":17.8,"v":0.12},{"d":"Fri 06/19/09","k":"s","a":18.2,"v":0.1},{"d":"Fri 06/19/09","k":"s","a":18.6,"v":0.14},{"d":"Fri 06/19/09","k":"s","a":19.3,"v":0.12},{"d":"Fri 06/19/09","k":"s","a":19.7,"v":0.1},
{"d":"Fri 06/19/09","k":"dp","a":4.92,"v":0.7},{"d":"Fri 06/19/09","k":"dp","a":5.02,"v":0.55},{"d":"Fri 06/19/09","k":"dp","a":5.13,"v":0.75},{"d":"Fri 06/19/09","k":"dp","a":7.32,"v":0.5},{"d":"Fri 06/19/09","k":"dp","a":7.43,"v":0.35},{"d":"Fri 06/19/09","k":"dp","a":7.53,"v":0.6},{"d":"Fri 06/19/09","k":"dp","a":7.7,"v":0.3},{"d":"Fri 06/19/09","k":"dp","a":7.85,"v":0.55},{"d":"Fri 06/19/09","k":"dp","a":20.61,"v":0.25},{"d":"Fri 06/19/09","k":"dp","a":20.79,"v":0.6},{"d":"Fri 06/19/09","k":"dp","a":20.86,"v":0.87},{"d":"Fri 06/19/09","k":"dp","a":20.93,"v":0.8},

{"d":"Sat 06/20/09","k":"w","a":1.93,"b":5.13},{"d":"Sat 06/20/09","k":"w","a":6.74,"b":13.77},{"d":"Sat 06/20/09","k":"w","a":22.08,"b":24},
{"d":"Sat 06/20/09","k":"m","a":0,"b":1.93},{"d":"Sat 06/20/09","k":"m","a":5.13,"b":6.74},
{"d":"Sat 06/20/09","k":"br","a":13.85,"b":21.97},
{"d":"Sat 06/20/09","k":"r","a":13.85,"b":16.5},{"d":"Sat 06/20/09","k":"r","a":16.55,"b":18.1},{"d":"Sat 06/20/09","k":"r","a":18.15,"b":19.2},{"d":"Sat 06/20/09","k":"r","a":19.25,"b":21.97},
{"d":"Sat 06/20/09","k":"s","a":14.23,"v":0.15},{"d":"Sat 06/20/09","k":"s","a":14.65,"v":0.6},{"d":"Sat 06/20/09","k":"s","a":15.06,"v":0.3},{"d":"Sat 06/20/09","k":"s","a":15.48,"v":0.3},{"d":"Sat 06/20/09","k":"s","a":15.9,"v":0.4},{"d":"Sat 06/20/09","k":"s","a":16.49,"v":0.6},{"d":"Sat 06/20/09","k":"s","a":16.85,"v":0.3},{"d":"Sat 06/20/09","k":"s","a":17.16,"v":0.2},{"d":"Sat 06/20/09","k":"s","a":17.58,"v":0.5},{"d":"Sat 06/20/09","k":"s","a":17.74,"v":0.3},{"d":"Sat 06/20/09","k":"s","a":17.95,"v":0.6},{"d":"Sat 06/20/09","k":"s","a":18.1,"v":0.8},{"d":"Sat 06/20/09","k":"s","a":18.31,"v":0.5},{"d":"Sat 06/20/09","k":"s","a":18.52,"v":0.4},{"d":"Sat 06/20/09","k":"s","a":18.62,"v":0.3},{"d":"Sat 06/20/09","k":"s","a":18.83,"v":0.5},{"d":"Sat 06/20/09","k":"s","a":19.04,"v":0.6},{"d":"Sat 06/20/09","k":"s","a":19.25,"v":0.4},{"d":"Sat 06/20/09","k":"s","a":19.46,"v":0.5},{"d":"Sat 06/20/09","k":"s","a":19.77,"v":0.5},{"d":"Sat 06/20/09","k":"s","a":19.98,"v":0.3},{"d":"Sat 06/20/09","k":"s","a":20.3,"v":0.4},{"d":"Sat 06/20/09","k":"s","a":20.61,"v":0.6},{"d":"Sat 06/20/09","k":"s","a":20.72,"v":0.3},{"d":"Sat 06/20/09","k":"s","a":21.03,"v":0.5},{"d":"Sat 06/20/09","k":"s","a":21.24,"v":0.6},{"d":"Sat 06/20/09","k":"s","a":21.45,"v":0.45},{"d":"Sat 06/20/09","k":"s","a":21.66,"v":0.55},{"d":"Sat 06/20/09","k":"s","a":21.87,"v":0.4},
{"d":"Sat 06/20/09","k":"s","a":14.0,"v":0.06},{"d":"Sat 06/20/09","k":"s","a":14.5,"v":0.08},{"d":"Sat 06/20/09","k":"s","a":15.2,"v":0.06},{"d":"Sat 06/20/09","k":"s","a":15.7,"v":0.08},{"d":"Sat 06/20/09","k":"s","a":16.2,"v":0.1},{"d":"Sat 06/20/09","k":"s","a":16.7,"v":0.08},{"d":"Sat 06/20/09","k":"s","a":17.3,"v":0.1},{"d":"Sat 06/20/09","k":"s","a":17.9,"v":0.12},{"d":"Sat 06/20/09","k":"s","a":18.4,"v":0.14},{"d":"Sat 06/20/09","k":"s","a":18.9,"v":0.12},{"d":"Sat 06/20/09","k":"s","a":19.15,"v":0.14},{"d":"Sat 06/20/09","k":"s","a":19.6,"v":0.12},{"d":"Sat 06/20/09","k":"s","a":20.1,"v":0.1},{"d":"Sat 06/20/09","k":"s","a":20.5,"v":0.14},{"d":"Sat 06/20/09","k":"s","a":20.9,"v":0.12},{"d":"Sat 06/20/09","k":"s","a":21.35,"v":0.14},{"d":"Sat 06/20/09","k":"s","a":21.55,"v":0.12},{"d":"Sat 06/20/09","k":"s","a":21.8,"v":0.1},
{"d":"Sat 06/20/09","k":"dp","a":1.97,"v":0.48},{"d":"Sat 06/20/09","k":"dp","a":2.02,"v":0.62},{"d":"Sat 06/20/09","k":"dp","a":2.09,"v":0.8},{"d":"Sat 06/20/09","k":"dp","a":2.16,"v":0.65},{"d":"Sat 06/20/09","k":"dp","a":2.23,"v":0.27},{"d":"Sat 06/20/09","k":"dp","a":2.99,"v":0.85},{"d":"Sat 06/20/09","k":"dp","a":7.34,"v":0.85},{"d":"Sat 06/20/09","k":"dp","a":7.5,"v":0.1},{"d":"Sat 06/20/09","k":"dp","a":7.59,"v":0.46},{"d":"Sat 06/20/09","k":"dp","a":7.67,"v":0.17},{"d":"Sat 06/20/09","k":"dp","a":7.74,"v":0.22},{"d":"Sat 06/20/09","k":"dp","a":7.88,"v":0.27},{"d":"Sat 06/20/09","k":"dp","a":8.0,"v":0.33},{"d":"Sat 06/20/09","k":"dp","a":8.09,"v":0.65},{"d":"Sat 06/20/09","k":"dp","a":8.26,"v":0.6},{"d":"Sat 06/20/09","k":"dp","a":8.47,"v":0.5},{"d":"Sat 06/20/09","k":"dp","a":8.68,"v":0.2},{"d":"Sat 06/20/09","k":"dp","a":8.89,"v":0.6},{"d":"Sat 06/20/09","k":"dp","a":9.17,"v":0.3},{"d":"Sat 06/20/09","k":"dp","a":9.31,"v":0.5},{"d":"Sat 06/20/09","k":"dp","a":9.46,"v":0.2},{"d":"Sat 06/20/09","k":"dp","a":9.63,"v":0.3},{"d":"Sat 06/20/09","k":"dp","a":9.83,"v":0.7},{"d":"Sat 06/20/09","k":"dp","a":10.09,"v":0.4},{"d":"Sat 06/20/09","k":"dp","a":10.36,"v":0.3},{"d":"Sat 06/20/09","k":"dp","a":10.51,"v":0.6},{"d":"Sat 06/20/09","k":"dp","a":10.78,"v":0.4},{"d":"Sat 06/20/09","k":"dp","a":10.99,"v":0.35},{"d":"Sat 06/20/09","k":"dp","a":11.26,"v":0.5},{"d":"Sat 06/20/09","k":"dp","a":11.51,"v":0.4},{"d":"Sat 06/20/09","k":"dp","a":11.72,"v":0.3},{"d":"Sat 06/20/09","k":"dp","a":12.03,"v":0.6},{"d":"Sat 06/20/09","k":"dp","a":12.35,"v":0.5},{"d":"Sat 06/20/09","k":"dp","a":12.56,"v":0.35},{"d":"Sat 06/20/09","k":"dp","a":12.87,"v":0.5},{"d":"Sat 06/20/09","k":"dp","a":13.14,"v":0.2},{"d":"Sat 06/20/09","k":"dp","a":13.39,"v":0.4},{"d":"Sat 06/20/09","k":"dp","a":13.6,"v":0.6},

{"d":"Sun 06/21/09","k":"w","a":0,"b":11.93},{"d":"Sun 06/21/09","k":"w","a":12.55,"b":12.76},{"d":"Sun 06/21/09","k":"w","a":19.25,"b":23.85},
{"d":"Sun 06/21/09","k":"m","a":11.93,"b":12.55},
{"d":"Sun 06/21/09","k":"br","a":12.87,"b":19.15},
{"d":"Sun 06/21/09","k":"r","a":12.87,"b":16.0},{"d":"Sun 06/21/09","k":"r","a":16.05,"b":19.15},
{"d":"Sun 06/21/09","k":"s","a":12.97,"v":0.15},{"d":"Sun 06/21/09","k":"s","a":13.81,"v":0.3},{"d":"Sun 06/21/09","k":"s","a":14.23,"v":0.2},{"d":"Sun 06/21/09","k":"s","a":14.54,"v":0.3},{"d":"Sun 06/21/09","k":"s","a":14.98,"v":0.5},{"d":"Sun 06/21/09","k":"s","a":15.27,"v":0.3},{"d":"Sun 06/21/09","k":"s","a":15.59,"v":0.35},{"d":"Sun 06/21/09","k":"s","a":15.74,"v":0.25},{"d":"Sun 06/21/09","k":"s","a":16.07,"v":0.3},{"d":"Sun 06/21/09","k":"s","a":16.28,"v":0.4},{"d":"Sun 06/21/09","k":"s","a":16.53,"v":0.35},{"d":"Sun 06/21/09","k":"s","a":16.74,"v":0.3},{"d":"Sun 06/21/09","k":"s","a":16.91,"v":0.25},{"d":"Sun 06/21/09","k":"s","a":17.05,"v":0.6},{"d":"Sun 06/21/09","k":"s","a":17.33,"v":0.9},{"d":"Sun 06/21/09","k":"s","a":17.47,"v":0.3},{"d":"Sun 06/21/09","k":"s","a":17.74,"v":0.6},{"d":"Sun 06/21/09","k":"s","a":17.89,"v":0.4},{"d":"Sun 06/21/09","k":"s","a":18.1,"v":0.5},{"d":"Sun 06/21/09","k":"s","a":18.31,"v":0.6},{"d":"Sun 06/21/09","k":"s","a":18.52,"v":0.5},{"d":"Sun 06/21/09","k":"s","a":18.73,"v":0.7},{"d":"Sun 06/21/09","k":"s","a":18.87,"v":0.9},{"d":"Sun 06/21/09","k":"s","a":19.04,"v":0.5},{"d":"Sun 06/21/09","k":"s","a":19.17,"v":0.7},
{"d":"Sun 06/21/09","k":"s","a":13.2,"v":0.06},{"d":"Sun 06/21/09","k":"s","a":13.5,"v":0.05},{"d":"Sun 06/21/09","k":"s","a":14.0,"v":0.08},{"d":"Sun 06/21/09","k":"s","a":14.4,"v":0.06},{"d":"Sun 06/21/09","k":"s","a":14.8,"v":0.1},{"d":"Sun 06/21/09","k":"s","a":15.4,"v":0.08},{"d":"Sun 06/21/09","k":"s","a":15.9,"v":0.1},{"d":"Sun 06/21/09","k":"s","a":16.4,"v":0.12},{"d":"Sun 06/21/09","k":"s","a":16.85,"v":0.1},{"d":"Sun 06/21/09","k":"s","a":17.2,"v":0.14},{"d":"Sun 06/21/09","k":"s","a":17.6,"v":0.12},{"d":"Sun 06/21/09","k":"s","a":17.95,"v":0.14},{"d":"Sun 06/21/09","k":"s","a":18.2,"v":0.16},{"d":"Sun 06/21/09","k":"s","a":18.4,"v":0.14},{"d":"Sun 06/21/09","k":"s","a":18.6,"v":0.12},{"d":"Sun 06/21/09","k":"s","a":18.95,"v":0.14},{"d":"Sun 06/21/09","k":"s","a":19.1,"v":0.12},
{"d":"Sun 06/21/09","k":"dp","a":1.78,"v":0.6},{"d":"Sun 06/21/09","k":"dp","a":1.88,"v":0.7},{"d":"Sun 06/21/09","k":"dp","a":3.98,"v":0.9},{"d":"Sun 06/21/09","k":"dp","a":6.38,"v":0.9},
{"d":"Sun 06/21/09","k":"tx","a":0,"t":"1200"},{"d":"Sun 06/21/09","k":"tx","a":6,"t":"1800"},{"d":"Sun 06/21/09","k":"tx","a":12,"t":"0000"},{"d":"Sun 06/21/09","k":"tx","a":18,"t":"0600"},{"d":"Sun 06/21/09","k":"tx","a":24,"t":"1200"},
{"d":"Sun 06/21/09","k":"x","a":-2.3017,"b":24.544,"lo":-1.492,"hi":-0.968}
],
"p2":[
{"d":"Tue 01/10/06","k":"g","a":1},{"d":"Tue 01/10/06","k":"g","a":2},{"d":"Tue 01/10/06","k":"g","a":3},{"d":"Tue 01/10/06","k":"g","a":4},{"d":"Tue 01/10/06","k":"g","a":5},{"d":"Tue 01/10/06","k":"g","a":6},{"d":"Tue 01/10/06","k":"g","a":7},{"d":"Tue 01/10/06","k":"g","a":8},{"d":"Tue 01/10/06","k":"g","a":9},{"d":"Tue 01/10/06","k":"g","a":10},{"d":"Tue 01/10/06","k":"g","a":11},{"d":"Tue 01/10/06","k":"g","a":12},{"d":"Tue 01/10/06","k":"g","a":13},{"d":"Tue 01/10/06","k":"g","a":14},{"d":"Tue 01/10/06","k":"g","a":15},{"d":"Tue 01/10/06","k":"g","a":16},{"d":"Tue 01/10/06","k":"g","a":17},{"d":"Tue 01/10/06","k":"g","a":18},{"d":"Tue 01/10/06","k":"g","a":19},{"d":"Tue 01/10/06","k":"g","a":20},{"d":"Tue 01/10/06","k":"g","a":21},{"d":"Tue 01/10/06","k":"g","a":22},{"d":"Tue 01/10/06","k":"g","a":23},{"d":"Tue 01/10/06","k":"h","v":0.25},{"d":"Tue 01/10/06","k":"h","v":0.5},{"d":"Tue 01/10/06","k":"h","v":0.75},
{"d":"Wed 01/11/06","k":"g","a":1},{"d":"Wed 01/11/06","k":"g","a":2},{"d":"Wed 01/11/06","k":"g","a":3},{"d":"Wed 01/11/06","k":"g","a":4},{"d":"Wed 01/11/06","k":"g","a":5},{"d":"Wed 01/11/06","k":"g","a":6},{"d":"Wed 01/11/06","k":"g","a":7},{"d":"Wed 01/11/06","k":"g","a":8},{"d":"Wed 01/11/06","k":"g","a":9},{"d":"Wed 01/11/06","k":"g","a":10},{"d":"Wed 01/11/06","k":"g","a":11},{"d":"Wed 01/11/06","k":"g","a":12},{"d":"Wed 01/11/06","k":"g","a":13},{"d":"Wed 01/11/06","k":"g","a":14},{"d":"Wed 01/11/06","k":"g","a":15},{"d":"Wed 01/11/06","k":"g","a":16},{"d":"Wed 01/11/06","k":"g","a":17},{"d":"Wed 01/11/06","k":"g","a":18},{"d":"Wed 01/11/06","k":"g","a":19},{"d":"Wed 01/11/06","k":"g","a":20},{"d":"Wed 01/11/06","k":"g","a":21},{"d":"Wed 01/11/06","k":"g","a":22},{"d":"Wed 01/11/06","k":"g","a":23},{"d":"Wed 01/11/06","k":"h","v":0.25},{"d":"Wed 01/11/06","k":"h","v":0.5},{"d":"Wed 01/11/06","k":"h","v":0.75},
{"d":"Thu 01/12/06","k":"g","a":1},{"d":"Thu 01/12/06","k":"g","a":2},{"d":"Thu 01/12/06","k":"g","a":3},{"d":"Thu 01/12/06","k":"g","a":4},{"d":"Thu 01/12/06","k":"g","a":5},{"d":"Thu 01/12/06","k":"g","a":6},{"d":"Thu 01/12/06","k":"g","a":7},{"d":"Thu 01/12/06","k":"g","a":8},{"d":"Thu 01/12/06","k":"g","a":9},{"d":"Thu 01/12/06","k":"g","a":10},{"d":"Thu 01/12/06","k":"g","a":11},{"d":"Thu 01/12/06","k":"g","a":12},{"d":"Thu 01/12/06","k":"g","a":13},{"d":"Thu 01/12/06","k":"g","a":14},{"d":"Thu 01/12/06","k":"g","a":15},{"d":"Thu 01/12/06","k":"g","a":16},{"d":"Thu 01/12/06","k":"g","a":17},{"d":"Thu 01/12/06","k":"g","a":18},{"d":"Thu 01/12/06","k":"g","a":19},{"d":"Thu 01/12/06","k":"g","a":20},{"d":"Thu 01/12/06","k":"g","a":21},{"d":"Thu 01/12/06","k":"g","a":22},{"d":"Thu 01/12/06","k":"g","a":23},{"d":"Thu 01/12/06","k":"h","v":0.25},{"d":"Thu 01/12/06","k":"h","v":0.5},{"d":"Thu 01/12/06","k":"h","v":0.75},
{"d":"Fri 01/13/06","k":"g","a":1},{"d":"Fri 01/13/06","k":"g","a":2},{"d":"Fri 01/13/06","k":"g","a":3},{"d":"Fri 01/13/06","k":"g","a":4},{"d":"Fri 01/13/06","k":"g","a":5},{"d":"Fri 01/13/06","k":"g","a":6},{"d":"Fri 01/13/06","k":"g","a":7},{"d":"Fri 01/13/06","k":"g","a":8},{"d":"Fri 01/13/06","k":"g","a":9},{"d":"Fri 01/13/06","k":"g","a":10},{"d":"Fri 01/13/06","k":"g","a":11},{"d":"Fri 01/13/06","k":"g","a":12},{"d":"Fri 01/13/06","k":"g","a":13},{"d":"Fri 01/13/06","k":"g","a":14},{"d":"Fri 01/13/06","k":"g","a":15},{"d":"Fri 01/13/06","k":"g","a":16},{"d":"Fri 01/13/06","k":"g","a":17},{"d":"Fri 01/13/06","k":"g","a":18},{"d":"Fri 01/13/06","k":"g","a":19},{"d":"Fri 01/13/06","k":"g","a":20},{"d":"Fri 01/13/06","k":"g","a":21},{"d":"Fri 01/13/06","k":"g","a":22},{"d":"Fri 01/13/06","k":"g","a":23},{"d":"Fri 01/13/06","k":"h","v":0.25},{"d":"Fri 01/13/06","k":"h","v":0.5},{"d":"Fri 01/13/06","k":"h","v":0.75},
{"d":"Sat 01/14/06","k":"g","a":1},{"d":"Sat 01/14/06","k":"g","a":2},{"d":"Sat 01/14/06","k":"g","a":3},{"d":"Sat 01/14/06","k":"g","a":4},{"d":"Sat 01/14/06","k":"g","a":5},{"d":"Sat 01/14/06","k":"g","a":6},{"d":"Sat 01/14/06","k":"g","a":7},{"d":"Sat 01/14/06","k":"g","a":8},{"d":"Sat 01/14/06","k":"g","a":9},{"d":"Sat 01/14/06","k":"g","a":10},{"d":"Sat 01/14/06","k":"g","a":11},{"d":"Sat 01/14/06","k":"g","a":12},{"d":"Sat 01/14/06","k":"g","a":13},{"d":"Sat 01/14/06","k":"g","a":14},{"d":"Sat 01/14/06","k":"g","a":15},{"d":"Sat 01/14/06","k":"g","a":16},{"d":"Sat 01/14/06","k":"g","a":17},{"d":"Sat 01/14/06","k":"g","a":18},{"d":"Sat 01/14/06","k":"g","a":19},{"d":"Sat 01/14/06","k":"g","a":20},{"d":"Sat 01/14/06","k":"g","a":21},{"d":"Sat 01/14/06","k":"g","a":22},{"d":"Sat 01/14/06","k":"g","a":23},{"d":"Sat 01/14/06","k":"h","v":0.25},{"d":"Sat 01/14/06","k":"h","v":0.5},{"d":"Sat 01/14/06","k":"h","v":0.75},
{"d":"Sun 01/15/06","k":"g","a":1},{"d":"Sun 01/15/06","k":"g","a":2},{"d":"Sun 01/15/06","k":"g","a":3},{"d":"Sun 01/15/06","k":"g","a":4},{"d":"Sun 01/15/06","k":"g","a":5},{"d":"Sun 01/15/06","k":"g","a":6},{"d":"Sun 01/15/06","k":"g","a":7},{"d":"Sun 01/15/06","k":"g","a":8},{"d":"Sun 01/15/06","k":"g","a":9},{"d":"Sun 01/15/06","k":"g","a":10},{"d":"Sun 01/15/06","k":"g","a":11},{"d":"Sun 01/15/06","k":"g","a":12},{"d":"Sun 01/15/06","k":"g","a":13},{"d":"Sun 01/15/06","k":"g","a":14},{"d":"Sun 01/15/06","k":"g","a":15},{"d":"Sun 01/15/06","k":"g","a":16},{"d":"Sun 01/15/06","k":"g","a":17},{"d":"Sun 01/15/06","k":"g","a":18},{"d":"Sun 01/15/06","k":"g","a":19},{"d":"Sun 01/15/06","k":"g","a":20},{"d":"Sun 01/15/06","k":"g","a":21},{"d":"Sun 01/15/06","k":"g","a":22},{"d":"Sun 01/15/06","k":"g","a":23},{"d":"Sun 01/15/06","k":"h","v":0.25},{"d":"Sun 01/15/06","k":"h","v":0.5},{"d":"Sun 01/15/06","k":"h","v":0.75},
{"d":"Mon 01/16/06","k":"g","a":1},{"d":"Mon 01/16/06","k":"g","a":2},{"d":"Mon 01/16/06","k":"g","a":3},{"d":"Mon 01/16/06","k":"g","a":4},{"d":"Mon 01/16/06","k":"g","a":5},{"d":"Mon 01/16/06","k":"g","a":6},{"d":"Mon 01/16/06","k":"g","a":7},{"d":"Mon 01/16/06","k":"g","a":8},{"d":"Mon 01/16/06","k":"g","a":9},{"d":"Mon 01/16/06","k":"g","a":10},{"d":"Mon 01/16/06","k":"g","a":11},{"d":"Mon 01/16/06","k":"g","a":12},{"d":"Mon 01/16/06","k":"g","a":13},{"d":"Mon 01/16/06","k":"g","a":14},{"d":"Mon 01/16/06","k":"g","a":15},{"d":"Mon 01/16/06","k":"g","a":16},{"d":"Mon 01/16/06","k":"g","a":17},{"d":"Mon 01/16/06","k":"g","a":18},{"d":"Mon 01/16/06","k":"g","a":19},{"d":"Mon 01/16/06","k":"g","a":20},{"d":"Mon 01/16/06","k":"g","a":21},{"d":"Mon 01/16/06","k":"g","a":22},{"d":"Mon 01/16/06","k":"g","a":23},{"d":"Mon 01/16/06","k":"h","v":0.25},{"d":"Mon 01/16/06","k":"h","v":0.5},{"d":"Mon 01/16/06","k":"h","v":0.75},

{"d":"Tue 01/10/06","k":"w","a":3.31,"b":7.95},{"d":"Tue 01/10/06","k":"w","a":8.39,"b":11.09},{"d":"Tue 01/10/06","k":"w","a":17.01,"b":19.82},{"d":"Tue 01/10/06","k":"w","a":20.15,"b":24},
{"d":"Tue 01/10/06","k":"m","a":7.95,"b":8.39},{"d":"Tue 01/10/06","k":"m","a":19.82,"b":20.15},
{"d":"Tue 01/10/06","k":"br","a":11.15,"b":17.01},
{"d":"Tue 01/10/06","k":"r","a":11.15,"b":15.23},{"d":"Tue 01/10/06","k":"r","a":15.4,"b":17.0},
{"d":"Tue 01/10/06","k":"t","a":5.44},{"d":"Tue 01/10/06","k":"t","a":7.95},{"d":"Tue 01/10/06","k":"t","a":8.39},{"d":"Tue 01/10/06","k":"t","a":11.03},{"d":"Tue 01/10/06","k":"t","a":17.05},
{"d":"Tue 01/10/06","k":"s","a":12.66,"v":0.45},{"d":"Tue 01/10/06","k":"s","a":12.76,"v":0.3},{"d":"Tue 01/10/06","k":"s","a":13.87,"v":0.35},{"d":"Tue 01/10/06","k":"s","a":13.96,"v":0.3},{"d":"Tue 01/10/06","k":"s","a":15.48,"v":0.35},{"d":"Tue 01/10/06","k":"s","a":15.65,"v":0.25},{"d":"Tue 01/10/06","k":"s","a":16.11,"v":0.2},{"d":"Tue 01/10/06","k":"s","a":16.22,"v":0.1},{"d":"Tue 01/10/06","k":"s","a":11.6,"v":0.04},{"d":"Tue 01/10/06","k":"s","a":13.3,"v":0.04},{"d":"Tue 01/10/06","k":"s","a":14.8,"v":0.04},{"d":"Tue 01/10/06","k":"s","a":16.6,"v":0.05},
{"d":"Tue 01/10/06","k":"dp","a":4.05,"v":0.94},{"d":"Tue 01/10/06","k":"dp","a":4.25,"v":0.34},{"d":"Tue 01/10/06","k":"dp","a":6.82,"v":0.9},{"d":"Tue 01/10/06","k":"dp","a":7.57,"v":0.21},{"d":"Tue 01/10/06","k":"dp","a":8.58,"v":0.8},{"d":"Tue 01/10/06","k":"dp","a":9.1,"v":0.7},{"d":"Tue 01/10/06","k":"dp","a":9.42,"v":0.6},{"d":"Tue 01/10/06","k":"dp","a":9.73,"v":0.8},{"d":"Tue 01/10/06","k":"dp","a":10.04,"v":0.7},{"d":"Tue 01/10/06","k":"dp","a":10.36,"v":0.85},{"d":"Tue 01/10/06","k":"dp","a":10.57,"v":0.6},{"d":"Tue 01/10/06","k":"dp","a":10.78,"v":0.8},{"d":"Tue 01/10/06","k":"dp","a":17.26,"v":0.8},{"d":"Tue 01/10/06","k":"dp","a":17.79,"v":0.6},{"d":"Tue 01/10/06","k":"dp","a":18.1,"v":0.75},{"d":"Tue 01/10/06","k":"dp","a":18.35,"v":0.64},{"d":"Tue 01/10/06","k":"dp","a":18.9,"v":0.38},{"d":"Tue 01/10/06","k":"dp","a":19.29,"v":0.61},{"d":"Tue 01/10/06","k":"dp","a":20.58,"v":0.43},{"d":"Tue 01/10/06","k":"dp","a":21.05,"v":0.38},{"d":"Tue 01/10/06","k":"dp","a":21.48,"v":0.54},{"d":"Tue 01/10/06","k":"dp","a":21.78,"v":0.35},{"d":"Tue 01/10/06","k":"dp","a":22.59,"v":0.48},{"d":"Tue 01/10/06","k":"dp","a":23.02,"v":0.61},{"d":"Tue 01/10/06","k":"dp","a":23.18,"v":0.47},{"d":"Tue 01/10/06","k":"dp","a":23.41,"v":0.43},
{"d":"Tue 01/10/06","k":"x","a":19.731,"b":24.544,"lo":0.7302,"hi":1.3175},{"d":"Tue 01/10/06","k":"x","a":-2.3017,"b":-2.1762,"lo":-8.73,"hi":1.3175},

{"d":"Wed 01/11/06","k":"w","a":0,"b":7.8},{"d":"Wed 01/11/06","k":"w","a":8.24,"b":11.09},{"d":"Wed 01/11/06","k":"w","a":17.12,"b":24},
{"d":"Wed 01/11/06","k":"m","a":7.8,"b":8.24},
{"d":"Wed 01/11/06","k":"br","a":11.15,"b":17.12},
{"d":"Wed 01/11/06","k":"r","a":11.15,"b":16.0},{"d":"Wed 01/11/06","k":"r","a":16.1,"b":17.1},
{"d":"Wed 01/11/06","k":"t","a":4.35},{"d":"Wed 01/11/06","k":"t","a":7.8},{"d":"Wed 01/11/06","k":"t","a":8.24},{"d":"Wed 01/11/06","k":"t","a":11.03},{"d":"Wed 01/11/06","k":"t","a":15.44},{"d":"Wed 01/11/06","k":"t","a":17.12},
{"d":"Wed 01/11/06","k":"s","a":11.72,"v":0.55},{"d":"Wed 01/11/06","k":"s","a":13.08,"v":0.2},{"d":"Wed 01/11/06","k":"s","a":13.85,"v":0.35},{"d":"Wed 01/11/06","k":"s","a":14.4,"v":0.45},{"d":"Wed 01/11/06","k":"s","a":14.82,"v":0.2},{"d":"Wed 01/11/06","k":"s","a":15.02,"v":0.5},{"d":"Wed 01/11/06","k":"s","a":15.42,"v":0.2},{"d":"Wed 01/11/06","k":"s","a":16.11,"v":0.8},{"d":"Wed 01/11/06","k":"s","a":16.22,"v":0.3},{"d":"Wed 01/11/06","k":"s","a":16.32,"v":0.1},{"d":"Wed 01/11/06","k":"s","a":12.4,"v":0.04},{"d":"Wed 01/11/06","k":"s","a":14.1,"v":0.05},{"d":"Wed 01/11/06","k":"s","a":15.7,"v":0.04},{"d":"Wed 01/11/06","k":"s","a":16.8,"v":0.05},
{"d":"Wed 01/11/06","k":"dp","a":0.1,"v":0.5},{"d":"Wed 01/11/06","k":"dp","a":0.31,"v":0.6},{"d":"Wed 01/11/06","k":"dp","a":0.52,"v":0.7},{"d":"Wed 01/11/06","k":"dp","a":0.73,"v":0.5},{"d":"Wed 01/11/06","k":"dp","a":0.84,"v":0.75},{"d":"Wed 01/11/06","k":"dp","a":1.05,"v":0.6},{"d":"Wed 01/11/06","k":"dp","a":1.26,"v":0.8},{"d":"Wed 01/11/06","k":"dp","a":1.46,"v":0.55},{"d":"Wed 01/11/06","k":"dp","a":1.67,"v":0.7},{"d":"Wed 01/11/06","k":"dp","a":1.88,"v":0.6},{"d":"Wed 01/11/06","k":"dp","a":2.09,"v":0.75},{"d":"Wed 01/11/06","k":"dp","a":2.3,"v":0.6},{"d":"Wed 01/11/06","k":"dp","a":2.62,"v":0.8},{"d":"Wed 01/11/06","k":"dp","a":2.93,"v":0.65},{"d":"Wed 01/11/06","k":"dp","a":3.03,"v":0.8},{"d":"Wed 01/11/06","k":"dp","a":3.45,"v":0.85},{"d":"Wed 01/11/06","k":"dp","a":3.98,"v":0.8},{"d":"Wed 01/11/06","k":"dp","a":4.81,"v":0.85},{"d":"Wed 01/11/06","k":"dp","a":6.17,"v":0.5},{"d":"Wed 01/11/06","k":"dp","a":6.28,"v":0.7},{"d":"Wed 01/11/06","k":"dp","a":6.49,"v":0.6},{"d":"Wed 01/11/06","k":"dp","a":6.91,"v":0.8},{"d":"Wed 01/11/06","k":"dp","a":7.43,"v":0.85},{"d":"Wed 01/11/06","k":"dp","a":8.47,"v":0.8},{"d":"Wed 01/11/06","k":"dp","a":8.68,"v":0.65},{"d":"Wed 01/11/06","k":"dp","a":9.0,"v":0.7},{"d":"Wed 01/11/06","k":"dp","a":9.31,"v":0.6},{"d":"Wed 01/11/06","k":"dp","a":9.63,"v":0.75},{"d":"Wed 01/11/06","k":"dp","a":9.83,"v":0.65},{"d":"Wed 01/11/06","k":"dp","a":10.15,"v":0.7},{"d":"Wed 01/11/06","k":"dp","a":10.46,"v":0.8},{"d":"Wed 01/11/06","k":"dp","a":10.78,"v":0.7},{"d":"Wed 01/11/06","k":"dp","a":17.58,"v":0.85},{"d":"Wed 01/11/06","k":"dp","a":18.62,"v":0.8},{"d":"Wed 01/11/06","k":"dp","a":20.3,"v":0.85},{"d":"Wed 01/11/06","k":"dp","a":21.55,"v":0.8},{"d":"Wed 01/11/06","k":"dp","a":22.81,"v":0.85},{"d":"Wed 01/11/06","k":"dp","a":23.75,"v":0.5},{"d":"Wed 01/11/06","k":"dp","a":23.9,"v":0.7},

{"d":"Thu 01/12/06","k":"w","a":0.05,"b":8.85},{"d":"Thu 01/12/06","k":"w","a":9.35,"b":11.19},{"d":"Thu 01/12/06","k":"w","a":17.01,"b":24},
{"d":"Thu 01/12/06","k":"m","a":8.85,"b":8.95},
{"d":"Thu 01/12/06","k":"br","a":11.26,"b":17.01},
{"d":"Thu 01/12/06","k":"r","a":8.93,"b":9.35},{"d":"Thu 01/12/06","k":"r","a":11.26,"b":17.0},
{"d":"Thu 01/12/06","k":"t","a":7.68},{"d":"Thu 01/12/06","k":"t","a":8.89},{"d":"Thu 01/12/06","k":"t","a":9.35},{"d":"Thu 01/12/06","k":"t","a":11.0},{"d":"Thu 01/12/06","k":"t","a":11.15},{"d":"Thu 01/12/06","k":"t","a":17.05},{"d":"Thu 01/12/06","k":"t","a":17.15},
{"d":"Thu 01/12/06","k":"s","a":9.0,"v":0.2},{"d":"Thu 01/12/06","k":"s","a":12.6,"v":0.45},{"d":"Thu 01/12/06","k":"s","a":13.12,"v":0.6},{"d":"Thu 01/12/06","k":"s","a":13.39,"v":0.2},{"d":"Thu 01/12/06","k":"s","a":13.81,"v":0.2},{"d":"Thu 01/12/06","k":"s","a":13.92,"v":0.65},{"d":"Thu 01/12/06","k":"s","a":14.08,"v":0.3},{"d":"Thu 01/12/06","k":"s","a":14.29,"v":0.2},{"d":"Thu 01/12/06","k":"s","a":14.44,"v":0.4},{"d":"Thu 01/12/06","k":"s","a":15.53,"v":0.55},{"d":"Thu 01/12/06","k":"s","a":16.11,"v":0.15},{"d":"Thu 01/12/06","k":"s","a":16.32,"v":0.2},{"d":"Thu 01/12/06","k":"s","a":11.5,"v":0.05},{"d":"Thu 01/12/06","k":"s","a":12.1,"v":0.04},{"d":"Thu 01/12/06","k":"s","a":15.0,"v":0.04},{"d":"Thu 01/12/06","k":"s","a":16.7,"v":0.05},
{"d":"Thu 01/12/06","k":"dp","a":0.21,"v":0.6},{"d":"Thu 01/12/06","k":"dp","a":0.63,"v":0.8},{"d":"Thu 01/12/06","k":"dp","a":1.05,"v":0.7},{"d":"Thu 01/12/06","k":"dp","a":1.46,"v":0.85},{"d":"Thu 01/12/06","k":"dp","a":1.88,"v":0.75},{"d":"Thu 01/12/06","k":"dp","a":2.2,"v":0.6},{"d":"Thu 01/12/06","k":"dp","a":2.51,"v":0.8},{"d":"Thu 01/12/06","k":"dp","a":2.83,"v":0.55},{"d":"Thu 01/12/06","k":"dp","a":3.18,"v":0.85},{"d":"Thu 01/12/06","k":"dp","a":3.98,"v":0.85},{"d":"Thu 01/12/06","k":"dp","a":4.81,"v":0.8},{"d":"Thu 01/12/06","k":"dp","a":5.44,"v":0.85},{"d":"Thu 01/12/06","k":"dp","a":6.07,"v":0.8},{"d":"Thu 01/12/06","k":"dp","a":6.91,"v":0.85},{"d":"Thu 01/12/06","k":"dp","a":8.23,"v":0.74},{"d":"Thu 01/12/06","k":"dp","a":8.41,"v":0.89},{"d":"Thu 01/12/06","k":"dp","a":9.45,"v":0.81},{"d":"Thu 01/12/06","k":"dp","a":9.59,"v":0.74},{"d":"Thu 01/12/06","k":"dp","a":9.66,"v":0.51},{"d":"Thu 01/12/06","k":"dp","a":9.77,"v":0.42},{"d":"Thu 01/12/06","k":"dp","a":9.83,"v":0.5},{"d":"Thu 01/12/06","k":"dp","a":9.97,"v":0.77},{"d":"Thu 01/12/06","k":"dp","a":10.04,"v":0.28},{"d":"Thu 01/12/06","k":"dp","a":10.11,"v":0.66},{"d":"Thu 01/12/06","k":"dp","a":10.74,"v":0.69},{"d":"Thu 01/12/06","k":"dp","a":10.81,"v":0.77},{"d":"Thu 01/12/06","k":"dp","a":10.88,"v":0.72},{"d":"Thu 01/12/06","k":"dp","a":17.37,"v":0.85},{"d":"Thu 01/12/06","k":"dp","a":18.2,"v":0.8},{"d":"Thu 01/12/06","k":"dp","a":19.46,"v":0.85},{"d":"Thu 01/12/06","k":"dp","a":20.72,"v":0.8},{"d":"Thu 01/12/06","k":"dp","a":21.97,"v":0.85},{"d":"Thu 01/12/06","k":"dp","a":23.02,"v":0.75},{"d":"Thu 01/12/06","k":"dp","a":23.75,"v":0.6},{"d":"Thu 01/12/06","k":"dp","a":23.9,"v":0.5},

{"d":"Fri 01/13/06","k":"w","a":0,"b":8.85},{"d":"Fri 01/13/06","k":"w","a":9.1,"b":11.15},{"d":"Fri 01/13/06","k":"w","a":21.0,"b":24},
{"d":"Fri 01/13/06","k":"m","a":8.93,"b":9.1},
{"d":"Fri 01/13/06","k":"br","a":11.23,"b":20.92},
{"d":"Fri 01/13/06","k":"r","a":11.2,"b":15.0},{"d":"Fri 01/13/06","k":"r","a":15.1,"b":17.2},{"d":"Fri 01/13/06","k":"r","a":17.35,"b":20.9},
{"d":"Fri 01/13/06","k":"t","a":0.77},{"d":"Fri 01/13/06","k":"t","a":8.85},{"d":"Fri 01/13/06","k":"t","a":9.1},{"d":"Fri 01/13/06","k":"t","a":10.04},{"d":"Fri 01/13/06","k":"t","a":11.09},{"d":"Fri 01/13/06","k":"t","a":21.07},
{"d":"Fri 01/13/06","k":"s","a":12.56,"v":0.25},{"d":"Fri 01/13/06","k":"s","a":12.66,"v":0.3},{"d":"Fri 01/13/06","k":"s","a":13.6,"v":0.2},{"d":"Fri 01/13/06","k":"s","a":13.92,"v":0.3},{"d":"Fri 01/13/06","k":"s","a":15.07,"v":0.45},{"d":"Fri 01/13/06","k":"s","a":15.48,"v":0.3},{"d":"Fri 01/13/06","k":"s","a":15.59,"v":0.15},{"d":"Fri 01/13/06","k":"s","a":15.9,"v":0.2},{"d":"Fri 01/13/06","k":"s","a":16.59,"v":0.3},{"d":"Fri 01/13/06","k":"s","a":17.33,"v":1},{"d":"Fri 01/13/06","k":"s","a":17.36,"v":1},{"d":"Fri 01/13/06","k":"s","a":17.39,"v":1},{"d":"Fri 01/13/06","k":"s","a":18.41,"v":0.2},{"d":"Fri 01/13/06","k":"s","a":19.71,"v":0.35},{"d":"Fri 01/13/06","k":"s","a":19.82,"v":0.2},{"d":"Fri 01/13/06","k":"s","a":20.51,"v":0.1},{"d":"Fri 01/13/06","k":"s","a":11.8,"v":0.04},{"d":"Fri 01/13/06","k":"s","a":14.3,"v":0.05},{"d":"Fri 01/13/06","k":"s","a":16.2,"v":0.04},{"d":"Fri 01/13/06","k":"s","a":19.1,"v":0.05},
{"d":"Fri 01/13/06","k":"dp","a":0.1,"v":0.6},{"d":"Fri 01/13/06","k":"dp","a":0.42,"v":0.7},{"d":"Fri 01/13/06","k":"dp","a":0.84,"v":0.75},{"d":"Fri 01/13/06","k":"dp","a":1.26,"v":0.6},{"d":"Fri 01/13/06","k":"dp","a":1.88,"v":0.8},{"d":"Fri 01/13/06","k":"dp","a":2.51,"v":0.6},{"d":"Fri 01/13/06","k":"dp","a":2.83,"v":0.7},{"d":"Fri 01/13/06","k":"dp","a":3.24,"v":0.5},{"d":"Fri 01/13/06","k":"dp","a":3.77,"v":0.8},{"d":"Fri 01/13/06","k":"dp","a":4.6,"v":0.75},{"d":"Fri 01/13/06","k":"dp","a":5.23,"v":0.85},{"d":"Fri 01/13/06","k":"dp","a":6.28,"v":0.7},{"d":"Fri 01/13/06","k":"dp","a":6.8,"v":0.6},{"d":"Fri 01/13/06","k":"dp","a":7.53,"v":0.8},{"d":"Fri 01/13/06","k":"dp","a":9.42,"v":0.8},{"d":"Fri 01/13/06","k":"dp","a":9.73,"v":0.6},{"d":"Fri 01/13/06","k":"dp","a":10.04,"v":0.7},{"d":"Fri 01/13/06","k":"dp","a":10.36,"v":0.5},{"d":"Fri 01/13/06","k":"dp","a":10.57,"v":0.6},{"d":"Fri 01/13/06","k":"dp","a":10.88,"v":0.4},{"d":"Fri 01/13/06","k":"dp","a":21.34,"v":0.85},{"d":"Fri 01/13/06","k":"dp","a":22.39,"v":0.8},{"d":"Fri 01/13/06","k":"dp","a":23.44,"v":0.7},{"d":"Fri 01/13/06","k":"dp","a":23.75,"v":0.6},{"d":"Fri 01/13/06","k":"dp","a":23.9,"v":0.75},

{"d":"Sat 01/14/06","k":"w","a":0,"b":8.6},{"d":"Sat 01/14/06","k":"w","a":9.02,"b":11.2},{"d":"Sat 01/14/06","k":"w","a":20.46,"b":24},
{"d":"Sat 01/14/06","k":"m","a":8.6,"b":9.02},
{"d":"Sat 01/14/06","k":"br","a":11.3,"b":20.46},
{"d":"Sat 01/14/06","k":"r","a":11.26,"b":15.5},{"d":"Sat 01/14/06","k":"r","a":15.6,"b":18.0},{"d":"Sat 01/14/06","k":"r","a":18.35,"b":20.46},
{"d":"Sat 01/14/06","k":"t","a":8.41},{"d":"Sat 01/14/06","k":"t","a":8.62},{"d":"Sat 01/14/06","k":"t","a":9.02},{"d":"Sat 01/14/06","k":"t","a":11.15},{"d":"Sat 01/14/06","k":"t","a":20.71},
{"d":"Sat 01/14/06","k":"s","a":12.35,"v":0.2},{"d":"Sat 01/14/06","k":"s","a":12.66,"v":0.3},{"d":"Sat 01/14/06","k":"s","a":13.08,"v":0.2},{"d":"Sat 01/14/06","k":"s","a":13.81,"v":0.8},{"d":"Sat 01/14/06","k":"s","a":14.02,"v":0.3},{"d":"Sat 01/14/06","k":"s","a":14.33,"v":0.35},{"d":"Sat 01/14/06","k":"s","a":14.44,"v":0.3},{"d":"Sat 01/14/06","k":"s","a":15.07,"v":0.6},{"d":"Sat 01/14/06","k":"s","a":15.48,"v":0.2},{"d":"Sat 01/14/06","k":"s","a":15.82,"v":0.2},{"d":"Sat 01/14/06","k":"s","a":16.74,"v":0.5},{"d":"Sat 01/14/06","k":"s","a":17.05,"v":0.45},{"d":"Sat 01/14/06","k":"s","a":17.68,"v":0.5},{"d":"Sat 01/14/06","k":"s","a":18.03,"v":1},{"d":"Sat 01/14/06","k":"s","a":18.06,"v":1},{"d":"Sat 01/14/06","k":"s","a":18.09,"v":1},{"d":"Sat 01/14/06","k":"s","a":18.31,"v":0.5},{"d":"Sat 01/14/06","k":"s","a":19.04,"v":0.35},{"d":"Sat 01/14/06","k":"s","a":19.46,"v":0.4},{"d":"Sat 01/14/06","k":"s","a":19.88,"v":0.3},{"d":"Sat 01/14/06","k":"s","a":20.19,"v":0.3},{"d":"Sat 01/14/06","k":"s","a":20.3,"v":0.2},{"d":"Sat 01/14/06","k":"s","a":11.8,"v":0.05},{"d":"Sat 01/14/06","k":"s","a":16.3,"v":0.05},{"d":"Sat 01/14/06","k":"s","a":17.3,"v":0.06},{"d":"Sat 01/14/06","k":"s","a":19.7,"v":0.06},
{"d":"Sat 01/14/06","k":"dp","a":1.05,"v":0.7},{"d":"Sat 01/14/06","k":"dp","a":1.57,"v":0.5},{"d":"Sat 01/14/06","k":"dp","a":4.5,"v":0.75},{"d":"Sat 01/14/06","k":"dp","a":6.49,"v":0.85},{"d":"Sat 01/14/06","k":"dp","a":7.74,"v":0.8},{"d":"Sat 01/14/06","k":"dp","a":10.46,"v":0.7},{"d":"Sat 01/14/06","k":"dp","a":10.67,"v":0.5},{"d":"Sat 01/14/06","k":"dp","a":10.88,"v":0.7},{"d":"Sat 01/14/06","k":"dp","a":20.72,"v":0.85},{"d":"Sat 01/14/06","k":"dp","a":21.76,"v":0.8},{"d":"Sat 01/14/06","k":"dp","a":22.81,"v":0.85},{"d":"Sat 01/14/06","k":"dp","a":23.9,"v":0.6},

{"d":"Sun 01/15/06","k":"w","a":0,"b":1.15},{"d":"Sun 01/15/06","k":"w","a":1.36,"b":7.05},{"d":"Sun 01/15/06","k":"w","a":7.39,"b":10.78},{"d":"Sun 01/15/06","k":"w","a":21.4,"b":24},
{"d":"Sun 01/15/06","k":"m","a":7.05,"b":7.39},
{"d":"Sun 01/15/06","k":"br","a":10.88,"b":21.36},
{"d":"Sun 01/15/06","k":"r","a":1.2,"b":1.3},{"d":"Sun 01/15/06","k":"r","a":10.88,"b":15.2},{"d":"Sun 01/15/06","k":"r","a":15.3,"b":18.6},{"d":"Sun 01/15/06","k":"r","a":18.75,"b":21.36},
{"d":"Sun 01/15/06","k":"t","a":1.17},{"d":"Sun 01/15/06","k":"t","a":1.36},{"d":"Sun 01/15/06","k":"t","a":7.05},{"d":"Sun 01/15/06","k":"t","a":7.39},{"d":"Sun 01/15/06","k":"t","a":10.78},{"d":"Sun 01/15/06","k":"t","a":21.36},
{"d":"Sun 01/15/06","k":"s","a":11.51,"v":0.2},{"d":"Sun 01/15/06","k":"s","a":12.35,"v":0.3},{"d":"Sun 01/15/06","k":"s","a":12.66,"v":0.3},{"d":"Sun 01/15/06","k":"s","a":13.08,"v":0.45},{"d":"Sun 01/15/06","k":"s","a":13.39,"v":0.25},{"d":"Sun 01/15/06","k":"s","a":14.12,"v":0.4},{"d":"Sun 01/15/06","k":"s","a":14.54,"v":0.2},{"d":"Sun 01/15/06","k":"s","a":15.02,"v":0.15},{"d":"Sun 01/15/06","k":"s","a":15.59,"v":0.3},{"d":"Sun 01/15/06","k":"s","a":16.01,"v":0.45},{"d":"Sun 01/15/06","k":"s","a":16.53,"v":0.4},{"d":"Sun 01/15/06","k":"s","a":16.78,"v":0.3},{"d":"Sun 01/15/06","k":"s","a":17.05,"v":0.25},{"d":"Sun 01/15/06","k":"s","a":17.68,"v":0.45},{"d":"Sun 01/15/06","k":"s","a":17.83,"v":0.55},{"d":"Sun 01/15/06","k":"s","a":17.95,"v":0.6},{"d":"Sun 01/15/06","k":"s","a":18.31,"v":0.4},{"d":"Sun 01/15/06","k":"s","a":18.62,"v":1},{"d":"Sun 01/15/06","k":"s","a":18.65,"v":1},{"d":"Sun 01/15/06","k":"s","a":18.68,"v":1},{"d":"Sun 01/15/06","k":"s","a":19.46,"v":0.2},{"d":"Sun 01/15/06","k":"s","a":20.3,"v":0.15},{"d":"Sun 01/15/06","k":"s","a":20.93,"v":0.1},{"d":"Sun 01/15/06","k":"s","a":11.9,"v":0.05},{"d":"Sun 01/15/06","k":"s","a":14.9,"v":0.05},{"d":"Sun 01/15/06","k":"s","a":17.3,"v":0.07},{"d":"Sun 01/15/06","k":"s","a":20.0,"v":0.05},
{"d":"Sun 01/15/06","k":"dp","a":2.48,"v":0.48},{"d":"Sun 01/15/06","k":"dp","a":2.55,"v":0.64},{"d":"Sun 01/15/06","k":"dp","a":2.71,"v":0.73},{"d":"Sun 01/15/06","k":"dp","a":2.76,"v":0.75},{"d":"Sun 01/15/06","k":"dp","a":3.23,"v":0.86},{"d":"Sun 01/15/06","k":"dp","a":3.51,"v":0.86},{"d":"Sun 01/15/06","k":"dp","a":4.33,"v":0.86},{"d":"Sun 01/15/06","k":"dp","a":4.38,"v":0.34},{"d":"Sun 01/15/06","k":"dp","a":4.45,"v":0.64},{"d":"Sun 01/15/06","k":"dp","a":4.53,"v":0.31},{"d":"Sun 01/15/06","k":"dp","a":4.67,"v":0.34},{"d":"Sun 01/15/06","k":"dp","a":5.6,"v":0.86},{"d":"Sun 01/15/06","k":"dp","a":5.69,"v":0.84},{"d":"Sun 01/15/06","k":"dp","a":6.29,"v":0.15},{"d":"Sun 01/15/06","k":"dp","a":6.4,"v":0.59},{"d":"Sun 01/15/06","k":"dp","a":6.82,"v":0.31},{"d":"Sun 01/15/06","k":"dp","a":7.57,"v":0.62},{"d":"Sun 01/15/06","k":"dp","a":7.62,"v":0.26},{"d":"Sun 01/15/06","k":"dp","a":7.71,"v":0.37},{"d":"Sun 01/15/06","k":"dp","a":7.88,"v":0.18},{"d":"Sun 01/15/06","k":"dp","a":7.92,"v":0.31},{"d":"Sun 01/15/06","k":"dp","a":8.09,"v":0.86},{"d":"Sun 01/15/06","k":"dp","a":8.22,"v":0.37},{"d":"Sun 01/15/06","k":"dp","a":8.44,"v":0.29},{"d":"Sun 01/15/06","k":"dp","a":8.79,"v":0.5},{"d":"Sun 01/15/06","k":"dp","a":9.1,"v":0.4},{"d":"Sun 01/15/06","k":"dp","a":9.42,"v":0.6},{"d":"Sun 01/15/06","k":"dp","a":9.73,"v":0.35},{"d":"Sun 01/15/06","k":"dp","a":10.04,"v":0.5},{"d":"Sun 01/15/06","k":"dp","a":10.36,"v":0.6},{"d":"Sun 01/15/06","k":"dp","a":10.57,"v":0.3},{"d":"Sun 01/15/06","k":"dp","a":21.76,"v":0.85},{"d":"Sun 01/15/06","k":"dp","a":22.81,"v":0.8},{"d":"Sun 01/15/06","k":"dp","a":23.86,"v":0.85},

{"d":"Mon 01/16/06","k":"w","a":0,"b":7.66},{"d":"Mon 01/16/06","k":"w","a":8.08,"b":11.32},{"d":"Mon 01/16/06","k":"w","a":17.01,"b":23.64},{"d":"Mon 01/16/06","k":"w","a":23.8,"b":23.9},
{"d":"Mon 01/16/06","k":"m","a":7.66,"b":8.08},
{"d":"Mon 01/16/06","k":"br","a":11.2,"b":17.01},
{"d":"Mon 01/16/06","k":"r","a":11.32,"b":17.0},
{"d":"Mon 01/16/06","k":"t","a":5.82},{"d":"Mon 01/16/06","k":"t","a":7.66},{"d":"Mon 01/16/06","k":"t","a":8.08},{"d":"Mon 01/16/06","k":"t","a":11.15},{"d":"Mon 01/16/06","k":"t","a":17.1},{"d":"Mon 01/16/06","k":"t","a":20.63},{"d":"Mon 01/16/06","k":"t","a":21.62},{"d":"Mon 01/16/06","k":"t","a":21.7},
{"d":"Mon 01/16/06","k":"s","a":12.35,"v":0.3},{"d":"Mon 01/16/06","k":"s","a":13.18,"v":0.3},{"d":"Mon 01/16/06","k":"s","a":13.5,"v":0.45},{"d":"Mon 01/16/06","k":"s","a":13.81,"v":0.3},{"d":"Mon 01/16/06","k":"s","a":14.23,"v":0.6},{"d":"Mon 01/16/06","k":"s","a":14.33,"v":0.3},{"d":"Mon 01/16/06","k":"s","a":14.54,"v":0.55},{"d":"Mon 01/16/06","k":"s","a":14.75,"v":0.3},{"d":"Mon 01/16/06","k":"s","a":15.07,"v":0.2},{"d":"Mon 01/16/06","k":"s","a":15.27,"v":0.3},{"d":"Mon 01/16/06","k":"s","a":15.65,"v":0.2},{"d":"Mon 01/16/06","k":"s","a":15.9,"v":0.35},{"d":"Mon 01/16/06","k":"s","a":16.32,"v":0.3},{"d":"Mon 01/16/06","k":"s","a":16.7,"v":0.15},{"d":"Mon 01/16/06","k":"s","a":11.6,"v":0.05},{"d":"Mon 01/16/06","k":"s","a":11.9,"v":0.04},{"d":"Mon 01/16/06","k":"s","a":12.8,"v":0.05},{"d":"Mon 01/16/06","k":"s","a":16.0,"v":0.06},
{"d":"Mon 01/16/06","k":"dp","a":5.54,"v":0.85},{"d":"Mon 01/16/06","k":"dp","a":5.61,"v":0.7},{"d":"Mon 01/16/06","k":"dp","a":5.79,"v":0.85},{"d":"Mon 01/16/06","k":"dp","a":5.89,"v":0.8},{"d":"Mon 01/16/06","k":"dp","a":6.03,"v":0.65},{"d":"Mon 01/16/06","k":"dp","a":8.26,"v":0.7},{"d":"Mon 01/16/06","k":"dp","a":8.47,"v":0.85},{"d":"Mon 01/16/06","k":"dp","a":8.68,"v":0.6},{"d":"Mon 01/16/06","k":"dp","a":9.0,"v":0.8},{"d":"Mon 01/16/06","k":"dp","a":9.42,"v":0.85},{"d":"Mon 01/16/06","k":"dp","a":10.25,"v":0.8},{"d":"Mon 01/16/06","k":"dp","a":10.78,"v":0.75},{"d":"Mon 01/16/06","k":"dp","a":10.99,"v":0.5},{"d":"Mon 01/16/06","k":"dp","a":11.2,"v":0.4},{"d":"Mon 01/16/06","k":"dp","a":18.62,"v":0.85},{"d":"Mon 01/16/06","k":"dp","a":20.3,"v":0.8},{"d":"Mon 01/16/06","k":"dp","a":20.93,"v":0.7},{"d":"Mon 01/16/06","k":"dp","a":21.34,"v":0.6},{"d":"Mon 01/16/06","k":"dp","a":21.76,"v":0.5},{"d":"Mon 01/16/06","k":"dp","a":21.97,"v":0.7},{"d":"Mon 01/16/06","k":"dp","a":22.29,"v":0.4},{"d":"Mon 01/16/06","k":"dp","a":22.6,"v":0.6},{"d":"Mon 01/16/06","k":"dp","a":22.81,"v":0.3},{"d":"Mon 01/16/06","k":"dp","a":23.12,"v":0.55},{"d":"Mon 01/16/06","k":"dp","a":23.33,"v":0.4},
{"d":"Mon 01/16/06","k":"tx","a":0,"t":"1200"},{"d":"Mon 01/16/06","k":"tx","a":6,"t":"1800"},{"d":"Mon 01/16/06","k":"tx","a":12,"t":"0000"},{"d":"Mon 01/16/06","k":"tx","a":18,"t":"0600"},{"d":"Mon 01/16/06","k":"tx","a":24,"t":"1200"}
]
},
"vconcat":[
{"data":{"name":"p1"},"bounds":"flush","spacing":19.33,"resolve":{"axis":{"x":"independent","y":"independent"}},
"facet":{"row":{"field":"d","type":"nominal","title":null,"header":{"labels":false,"title":null},"sort":["Mon 06/15/09","Tue 06/16/09","Wed 06/17/09","Thu 06/18/09","Fri 06/19/09","Sat 06/20/09","Sun 06/21/09"]}},
"spec":{"width":1147,"height":63,"layer":[
{"transform":[{"filter":"datum.k==='g'"}],"mark":{"type":"rule","color":"#b2b2b2","strokeWidth":1},"encoding":{"x":{"field":"a","type":"quantitative","scale":{"domain":[0,24],"nice":false,"zero":false},"axis":{"title":null,"grid":false,"ticks":false,"domain":false,"labels":false,"minExtent":0,"maxExtent":0}}}},
{"transform":[{"filter":"datum.k==='h'"}],"mark":{"type":"rule","color":"#b2b2b2","strokeWidth":1},"encoding":{"y":{"field":"v","type":"quantitative","scale":{"domain":[0,1],"nice":false,"zero":true},"axis":{"title":null,"grid":false,"labels":false,"domain":false,"ticks":false,"minExtent":0,"maxExtent":0}}}},
{"transform":[{"filter":"datum.k==='w'"}],"mark":{"type":"rect","color":"#050505"},"encoding":{"x":{"field":"a","type":"quantitative","axis":null},"x2":{"field":"b"}}},
{"transform":[{"filter":"datum.k==='s'"}],"mark":{"type":"rule","orient":"vertical","color":"#050505","strokeWidth":1.3},"encoding":{"x":{"field":"a","type":"quantitative","axis":null},"y":{"field":"v","type":"quantitative","axis":null}}},
{"transform":[{"filter":"datum.k==='m'"}],"mark":{"type":"rect","color":"#B5509C","stroke":"#8d3c7c","strokeWidth":0.8,"yOffset":0,"y2Offset":-15.75},"encoding":{"x":{"field":"a","type":"quantitative","axis":null},"x2":{"field":"b"},"y":{"value":"height"},"y2":{"value":"height"}}},
{"transform":[{"filter":"datum.k==='dp'"}],"mark":{"type":"rule","color":"#F9F6C3","strokeWidth":1.4},"encoding":{"x":{"field":"a","type":"quantitative","axis":null},"y":{"field":"v","type":"quantitative","axis":null},"y2":{"value":0}}},
{"transform":[{"filter":"datum.k==='br'"}],"mark":{"type":"rule","color":"#4a4a4a","strokeWidth":1.2,"xOffset":-6,"x2Offset":0,"clip":false},"encoding":{"x":{"value":0},"x2":{"value":"width"},"y":{"value":"height"}}},
{"transform":[{"filter":"datum.k==='r'"}],"mark":{"type":"rule","color":"#E8262A","strokeWidth":4.4,"yOffset":1.2,"clip":false},"encoding":{"x":{"field":"a","type":"quantitative","axis":null},"x2":{"field":"b"},"y":{"value":"height"}}},
{"transform":[{"filter":"datum.k==='br'"}],"mark":{"type":"rule","color":"#3F51B5","strokeWidth":1.4,"yOffset":-2.6,"clip":false},"encoding":{"x":{"field":"a","type":"quantitative","axis":null},"x2":{"field":"b"},"y":{"value":0}}},
{"transform":[{"filter":"datum.k==='br'"}],"mark":{"type":"rule","color":"#3F51B5","strokeWidth":1.4,"yOffset":-5.5,"y2Offset":0.5,"clip":false},"encoding":{"x":{"field":"a","type":"quantitative","axis":null},"y":{"value":0},"y2":{"value":0}}},
{"transform":[{"filter":"datum.k==='br'"}],"mark":{"type":"rule","color":"#3F51B5","strokeWidth":1.4,"yOffset":-5.5,"y2Offset":0.5,"clip":false},"encoding":{"x":{"field":"b","type":"quantitative","axis":null},"y":{"value":0},"y2":{"value":0}}},
{"transform":[{"filter":"datum.k==='br'"}],"mark":{"type":"text","align":"right","baseline":"middle","dx":-12,"font":"Liberation Sans","fontSize":13.5,"color":"#2f2f3d","clip":false},"encoding":{"x":{"value":0},"y":{"value":"height"},"text":{"field":"d"}}},
{"transform":[{"filter":"datum.k==='tx'"}],"mark":{"type":"text","align":"center","baseline":"middle","dy":17,"font":"Liberation Sans","fontSize":13,"color":"#2f2f3d","clip":false},"encoding":{"x":{"field":"a","type":"quantitative","axis":null},"y":{"value":"height"},"text":{"field":"t"}}},
{"transform":[{"filter":"datum.k==='x'"}],"mark":{"type":"rect","color":"#ffffff","clip":false},"encoding":{"x":{"field":"a","type":"quantitative","axis":null},"x2":{"field":"b"},"y":{"field":"lo","type":"quantitative","axis":null},"y2":{"field":"hi"}}}
]}},
{"data":{"name":"p2"},"bounds":"flush","spacing":19.33,"resolve":{"axis":{"x":"independent","y":"independent"}},
"facet":{"row":{"field":"d","type":"nominal","title":null,"header":{"labels":false,"title":null},"sort":["Tue 01/10/06","Wed 01/11/06","Thu 01/12/06","Fri 01/13/06","Sat 01/14/06","Sun 01/15/06","Mon 01/16/06"]}},
"spec":{"width":1147,"height":63,"layer":[
{"transform":[{"filter":"datum.k==='g'"}],"mark":{"type":"rule","color":"#b2b2b2","strokeWidth":1},"encoding":{"x":{"field":"a","type":"quantitative","scale":{"domain":[0,24],"nice":false,"zero":false},"axis":{"title":null,"grid":false,"ticks":false,"domain":false,"labels":false,"minExtent":0,"maxExtent":0}}}},
{"transform":[{"filter":"datum.k==='h'"}],"mark":{"type":"rule","color":"#b2b2b2","strokeWidth":1},"encoding":{"y":{"field":"v","type":"quantitative","scale":{"domain":[0,1],"nice":false,"zero":true},"axis":{"title":null,"grid":false,"labels":false,"domain":false,"ticks":false,"minExtent":0,"maxExtent":0}}}},
{"transform":[{"filter":"datum.k==='w'"}],"mark":{"type":"rect","color":"#050505"},"encoding":{"x":{"field":"a","type":"quantitative","axis":null},"x2":{"field":"b"}}},
{"transform":[{"filter":"datum.k==='s'"}],"mark":{"type":"rule","orient":"vertical","color":"#050505","strokeWidth":1.3},"encoding":{"x":{"field":"a","type":"quantitative","axis":null},"y":{"field":"v","type":"quantitative","axis":null}}},
{"transform":[{"filter":"datum.k==='m'"}],"mark":{"type":"rect","color":"#B5509C","stroke":"#8d3c7c","strokeWidth":0.8,"yOffset":0,"y2Offset":-15.75},"encoding":{"x":{"field":"a","type":"quantitative","axis":null},"x2":{"field":"b"},"y":{"value":"height"},"y2":{"value":"height"}}},
{"transform":[{"filter":"datum.k==='dp'"}],"mark":{"type":"rule","color":"#F9F6C3","strokeWidth":1.4},"encoding":{"x":{"field":"a","type":"quantitative","axis":null},"y":{"field":"v","type":"quantitative","axis":null},"y2":{"value":0}}},
{"transform":[{"filter":"datum.k==='br'"}],"mark":{"type":"rule","color":"#4a4a4a","strokeWidth":1.2,"xOffset":-6,"x2Offset":0,"clip":false},"encoding":{"x":{"value":0},"x2":{"value":"width"},"y":{"value":"height"}}},
{"transform":[{"filter":"datum.k==='r'"}],"mark":{"type":"rule","color":"#E8262A","strokeWidth":4.4,"yOffset":1.2,"clip":false},"encoding":{"x":{"field":"a","type":"quantitative","axis":null},"x2":{"field":"b"},"y":{"value":"height"}}},
{"transform":[{"filter":"datum.k==='br'"}],"mark":{"type":"rule","color":"#3F51B5","strokeWidth":1.4,"yOffset":-2.6,"clip":false},"encoding":{"x":{"field":"a","type":"quantitative","axis":null},"x2":{"field":"b"},"y":{"value":0}}},
{"transform":[{"filter":"datum.k==='br'"}],"mark":{"type":"rule","color":"#3F51B5","strokeWidth":1.4,"yOffset":-5.5,"y2Offset":0.5,"clip":false},"encoding":{"x":{"field":"a","type":"quantitative","axis":null},"y":{"value":0},"y2":{"value":0}}},
{"transform":[{"filter":"datum.k==='br'"}],"mark":{"type":"rule","color":"#3F51B5","strokeWidth":1.4,"yOffset":-5.5,"y2Offset":0.5,"clip":false},"encoding":{"x":{"field":"b","type":"quantitative","axis":null},"y":{"value":0},"y2":{"value":0}}},
{"transform":[{"filter":"datum.k==='t'"}],"mark":{"type":"point","shape":"triangle-down","filled":true,"color":"#3F51B5","size":45,"opacity":1,"clip":false},"encoding":{"x":{"field":"a","type":"quantitative","axis":null},"y":{"value":0}}},
{"transform":[{"filter":"datum.k==='br'"}],"mark":{"type":"text","align":"right","baseline":"middle","dx":-12,"font":"Liberation Sans","fontSize":13.5,"color":"#2f2f3d","clip":false},"encoding":{"x":{"value":0},"y":{"value":"height"},"text":{"field":"d"}}},
{"transform":[{"filter":"datum.k==='tx'"}],"mark":{"type":"text","align":"center","baseline":"middle","dy":17,"font":"Liberation Sans","fontSize":13,"color":"#2f2f3d","clip":false},"encoding":{"x":{"field":"a","type":"quantitative","axis":null},"y":{"value":"height"},"text":{"field":"t"}}},
{"transform":[{"filter":"datum.k==='x'"}],"mark":{"type":"rect","color":"#ffffff","clip":false},"encoding":{"x":{"field":"a","type":"quantitative","axis":null},"x2":{"field":"b"},"y":{"field":"lo","type":"quantitative","axis":null},"y2":{"field":"hi"}}}
]}}
]
}
